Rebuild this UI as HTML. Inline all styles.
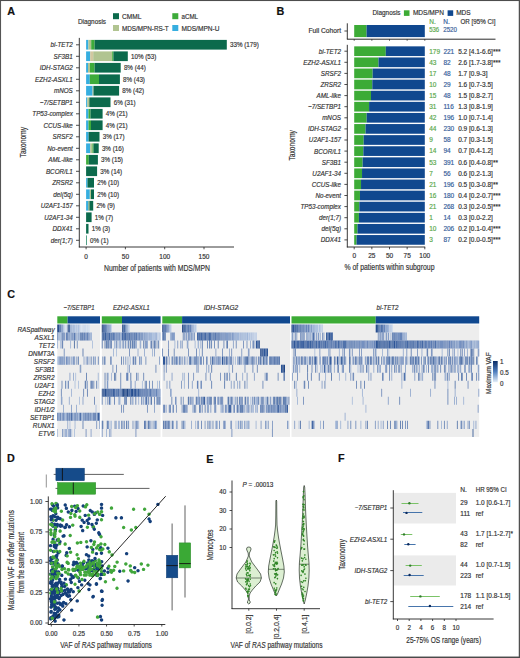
<!DOCTYPE html>
<html><head><meta charset="utf-8"><style>
html,body{margin:0;padding:0;background:#fff;}
svg{display:block;}
text{font-family:"Liberation Sans",sans-serif;font-size:6.5px;fill:#333;stroke:#333;stroke-width:.17px;}
</style></head><body>
<svg width="520" height="658" viewBox="0 0 520 658">
<rect x="0" y="0" width="520" height="658" fill="#fff"/>
<text x="7.2" y="14.8" style="font-size:10.8px;font-weight:bold;fill:#111;stroke:#111">A</text>
<text x="78" y="23.5" textLength="28" lengthAdjust="spacingAndGlyphs">Diagnosis</text>
<rect x="113" y="13.2" width="6" height="6" fill="#0b6a4c"/>
<rect x="113" y="25" width="6" height="6" fill="#b1c491"/>
<rect x="172.3" y="13.2" width="6" height="6" fill="#3dab3a"/>
<rect x="172.3" y="25" width="6" height="6" fill="#36aee0"/>
<text x="122" y="19.2" textLength="19.3" lengthAdjust="spacingAndGlyphs">CMML</text>
<text x="122" y="31" textLength="46.7" lengthAdjust="spacingAndGlyphs">MDS/MPN-RS-T</text>
<text x="181.5" y="19.2" textLength="16.5" lengthAdjust="spacingAndGlyphs">aCML</text>
<text x="181.5" y="31" textLength="38" lengthAdjust="spacingAndGlyphs">MDS/MPN-U</text>
<rect x="86.1" y="39.9" width="2.3" height="9.7" fill="#36aee0"/>
<rect x="88.4" y="39.9" width="2.8" height="9.7" fill="#b1c491"/>
<rect x="91.2" y="39.9" width="3.4" height="9.7" fill="#3dab3a"/>
<rect x="94.6" y="39.9" width="132.2" height="9.7" fill="#0b6a4c"/>
<text transform="translate(230 47.1) scale(0.92 1)" style="font-size:6.8px">33% (179)</text>
<text transform="translate(72.8 47.2) scale(0.9 1)" text-anchor="end" style="font-size:7px;font-style:italic">bi-TET2</text>
<line x1="76" y1="44.8" x2="79.3" y2="44.8" stroke="#222" stroke-width="0.8"/>
<rect x="86.1" y="51.4" width="4.1" height="9.7" fill="#36aee0"/>
<rect x="90.2" y="51.4" width="3" height="9.7" fill="#d2c8a0"/>
<rect x="93.2" y="51.4" width="19" height="9.7" fill="#b1c491"/>
<rect x="112.2" y="51.4" width="1.2" height="9.7" fill="#3dab3a"/>
<rect x="113.4" y="51.4" width="14.4" height="9.7" fill="#0b6a4c"/>
<text transform="translate(131 58.6) scale(0.92 1)" style="font-size:6.8px">10% (53)</text>
<text transform="translate(72.8 58.7) scale(0.9 1)" text-anchor="end" style="font-size:7px;font-style:italic">SF3B1</text>
<line x1="76" y1="56.3" x2="79.3" y2="56.3" stroke="#222" stroke-width="0.8"/>
<rect x="86.1" y="62.9" width="1.9" height="9.7" fill="#36aee0"/>
<rect x="88" y="62.9" width="2" height="9.7" fill="#b1c491"/>
<rect x="90" y="62.9" width="4.6" height="9.7" fill="#3dab3a"/>
<rect x="94.6" y="62.9" width="26.1" height="9.7" fill="#0b6a4c"/>
<text transform="translate(123.9 70.1) scale(0.92 1)" style="font-size:6.8px">8% (44)</text>
<text transform="translate(72.8 70.2) scale(0.9 1)" text-anchor="end" style="font-size:7px;font-style:italic">IDH-STAG2</text>
<line x1="76" y1="67.8" x2="79.3" y2="67.8" stroke="#222" stroke-width="0.8"/>
<rect x="86.1" y="74.4" width="3.7" height="9.7" fill="#36aee0"/>
<rect x="89.8" y="74.4" width="9.2" height="9.7" fill="#3dab3a"/>
<rect x="99" y="74.4" width="20.9" height="9.7" fill="#0b6a4c"/>
<text transform="translate(123.1 81.6) scale(0.92 1)" style="font-size:6.8px">8% (43)</text>
<text transform="translate(72.8 81.7) scale(0.9 1)" text-anchor="end" style="font-size:7px;font-style:italic">EZH2-ASXL1</text>
<line x1="76" y1="79.3" x2="79.3" y2="79.3" stroke="#222" stroke-width="0.8"/>
<rect x="86.1" y="85.9" width="6.5" height="9.7" fill="#36aee0"/>
<rect x="92.6" y="85.9" width="0.9" height="9.7" fill="#b1c491"/>
<rect x="93.5" y="85.9" width="25.6" height="9.7" fill="#0b6a4c"/>
<text transform="translate(122.3 93.1) scale(0.92 1)" style="font-size:6.8px">8% (42)</text>
<text transform="translate(72.8 93.2) scale(0.9 1)" text-anchor="end" style="font-size:7px;font-style:italic">mNOS</text>
<line x1="76" y1="90.8" x2="79.3" y2="90.8" stroke="#222" stroke-width="0.8"/>
<rect x="86.1" y="97.4" width="1.2" height="9.7" fill="#36aee0"/>
<rect x="87.3" y="97.4" width="2" height="9.7" fill="#b1c491"/>
<rect x="89.3" y="97.4" width="21.2" height="9.7" fill="#0b6a4c"/>
<text transform="translate(113.7 104.6) scale(0.92 1)" style="font-size:6.8px">6% (31)</text>
<text transform="translate(72.8 104.7) scale(0.9 1)" text-anchor="end" style="font-size:7px;font-style:italic">−7/SETBP1</text>
<line x1="76" y1="102.3" x2="79.3" y2="102.3" stroke="#222" stroke-width="0.8"/>
<rect x="86.1" y="108.9" width="2.4" height="9.7" fill="#36aee0"/>
<rect x="88.5" y="108.9" width="2" height="9.7" fill="#3dab3a"/>
<rect x="90.5" y="108.9" width="12.1" height="9.7" fill="#0b6a4c"/>
<text transform="translate(105.8 116.1) scale(0.92 1)" style="font-size:6.8px">4% (21)</text>
<text transform="translate(72.8 116.2) scale(0.9 1)" text-anchor="end" style="font-size:7px;font-style:italic">TP53-complex</text>
<line x1="76" y1="113.8" x2="79.3" y2="113.8" stroke="#222" stroke-width="0.8"/>
<rect x="86.1" y="120.4" width="2.4" height="9.7" fill="#36aee0"/>
<rect x="88.5" y="120.4" width="2.5" height="9.7" fill="#3dab3a"/>
<rect x="91" y="120.4" width="11.6" height="9.7" fill="#0b6a4c"/>
<text transform="translate(105.8 127.6) scale(0.92 1)" style="font-size:6.8px">4% (21)</text>
<text transform="translate(72.8 127.7) scale(0.9 1)" text-anchor="end" style="font-size:7px;font-style:italic">CCUS-like</text>
<line x1="76" y1="125.3" x2="79.3" y2="125.3" stroke="#222" stroke-width="0.8"/>
<rect x="86.1" y="131.9" width="2.5" height="9.7" fill="#36aee0"/>
<rect x="88.6" y="131.9" width="10.9" height="9.7" fill="#0b6a4c"/>
<text transform="translate(102.7 139.1) scale(0.92 1)" style="font-size:6.8px">3% (17)</text>
<text transform="translate(72.8 139.2) scale(0.9 1)" text-anchor="end" style="font-size:7px;font-style:italic">SRSF2</text>
<line x1="76" y1="136.8" x2="79.3" y2="136.8" stroke="#222" stroke-width="0.8"/>
<rect x="86.1" y="143.4" width="4.2" height="9.7" fill="#36aee0"/>
<rect x="90.3" y="143.4" width="2.1" height="9.7" fill="#b1c491"/>
<rect x="92.4" y="143.4" width="1.1" height="9.7" fill="#3dab3a"/>
<rect x="93.5" y="143.4" width="5.2" height="9.7" fill="#0b6a4c"/>
<text transform="translate(101.9 150.6) scale(0.92 1)" style="font-size:6.8px">3% (16)</text>
<text transform="translate(72.8 150.7) scale(0.9 1)" text-anchor="end" style="font-size:7px;font-style:italic">No-event</text>
<line x1="76" y1="148.3" x2="79.3" y2="148.3" stroke="#222" stroke-width="0.8"/>
<rect x="86.1" y="154.9" width="2.7" height="9.7" fill="#3dab3a"/>
<rect x="88.8" y="154.9" width="9.1" height="9.7" fill="#0b6a4c"/>
<text transform="translate(101.1 162.1) scale(0.92 1)" style="font-size:6.8px">3% (15)</text>
<text transform="translate(72.8 162.2) scale(0.9 1)" text-anchor="end" style="font-size:7px;font-style:italic">AML-like</text>
<line x1="76" y1="159.8" x2="79.3" y2="159.8" stroke="#222" stroke-width="0.8"/>
<rect x="86.1" y="166.4" width="11" height="9.7" fill="#0b6a4c"/>
<text transform="translate(100.3 173.6) scale(0.92 1)" style="font-size:6.8px">3% (14)</text>
<text transform="translate(72.8 173.7) scale(0.9 1)" text-anchor="end" style="font-size:7px;font-style:italic">BCOR/L1</text>
<line x1="76" y1="171.3" x2="79.3" y2="171.3" stroke="#222" stroke-width="0.8"/>
<rect x="86.1" y="177.9" width="1.4" height="9.7" fill="#36aee0"/>
<rect x="87.5" y="177.9" width="6.5" height="9.7" fill="#0b6a4c"/>
<text transform="translate(97.2 185.1) scale(0.92 1)" style="font-size:6.8px">2% (10)</text>
<text transform="translate(72.8 185.2) scale(0.9 1)" text-anchor="end" style="font-size:7px;font-style:italic">ZRSR2</text>
<line x1="76" y1="182.8" x2="79.3" y2="182.8" stroke="#222" stroke-width="0.8"/>
<rect x="86.1" y="189.4" width="3.7" height="9.7" fill="#36aee0"/>
<rect x="89.8" y="189.4" width="1.2" height="9.7" fill="#b1c491"/>
<rect x="91" y="189.4" width="3" height="9.7" fill="#0b6a4c"/>
<text transform="translate(97.2 196.6) scale(0.92 1)" style="font-size:6.8px">2% (10)</text>
<text transform="translate(72.8 196.7) scale(0.9 1)" text-anchor="end" style="font-size:7px;font-style:italic">del(5q)</text>
<line x1="76" y1="194.3" x2="79.3" y2="194.3" stroke="#222" stroke-width="0.8"/>
<rect x="86.1" y="200.9" width="2.4" height="9.7" fill="#36aee0"/>
<rect x="88.5" y="200.9" width="1" height="9.7" fill="#7a9a50"/>
<rect x="89.5" y="200.9" width="3.7" height="9.7" fill="#0b6a4c"/>
<text transform="translate(96.4 208.1) scale(0.92 1)" style="font-size:6.8px">2% (9)</text>
<text transform="translate(72.8 208.2) scale(0.9 1)" text-anchor="end" style="font-size:7px;font-style:italic">U2AF1-157</text>
<line x1="76" y1="205.8" x2="79.3" y2="205.8" stroke="#222" stroke-width="0.8"/>
<rect x="86.1" y="212.4" width="5.5" height="9.7" fill="#0b6a4c"/>
<text transform="translate(94.8 219.6) scale(0.92 1)" style="font-size:6.8px">1% (7)</text>
<text transform="translate(72.8 219.7) scale(0.9 1)" text-anchor="end" style="font-size:7px;font-style:italic">U2AF1-34</text>
<line x1="76" y1="217.3" x2="79.3" y2="217.3" stroke="#222" stroke-width="0.8"/>
<rect x="86.1" y="223.9" width="2.4" height="9.7" fill="#0b6a4c"/>
<text transform="translate(91.7 231.1) scale(0.92 1)" style="font-size:6.8px">1% (3)</text>
<text transform="translate(72.8 231.2) scale(0.9 1)" text-anchor="end" style="font-size:7px;font-style:italic">DDX41</text>
<line x1="76" y1="228.8" x2="79.3" y2="228.8" stroke="#222" stroke-width="0.8"/>
<rect x="86.1" y="235.4" width="0.8" height="9.7" fill="#2a8a6a"/>
<text transform="translate(90.1 242.6) scale(0.92 1)" style="font-size:6.8px">0% (1)</text>
<text transform="translate(72.8 242.7) scale(0.9 1)" text-anchor="end" style="font-size:7px;font-style:italic">der(1;7)</text>
<line x1="76" y1="240.3" x2="79.3" y2="240.3" stroke="#222" stroke-width="0.8"/>
<line x1="79.3" y1="37.9" x2="79.3" y2="247.4" stroke="#222" stroke-width="0.9"/>
<line x1="78.9" y1="247" x2="234" y2="247" stroke="#222" stroke-width="0.9"/>
<line x1="86.1" y1="247" x2="86.1" y2="249.3" stroke="#222" stroke-width="0.8"/>
<text x="86.1" y="258.5" text-anchor="middle">0</text>
<line x1="125.4" y1="247" x2="125.4" y2="249.3" stroke="#222" stroke-width="0.8"/>
<text x="125.4" y="258.5" text-anchor="middle">50</text>
<line x1="164.7" y1="247" x2="164.7" y2="249.3" stroke="#222" stroke-width="0.8"/>
<text x="164.7" y="258.5" text-anchor="middle">100</text>
<line x1="204" y1="247" x2="204" y2="249.3" stroke="#222" stroke-width="0.8"/>
<text x="204" y="258.5" text-anchor="middle">150</text>
<text x="104" y="271" style="font-size:8.2px" textLength="106" lengthAdjust="spacingAndGlyphs">Number of patients with MDS/MPN</text>
<text transform="translate(26.3 142.2) rotate(-90)" text-anchor="middle" style="font-size:8.3px" textLength="30.5" lengthAdjust="spacingAndGlyphs">Taxonomy</text>
<text x="276.5" y="15" style="font-size:10.8px;font-weight:bold;fill:#111;stroke:#111">B</text>
<text x="372.5" y="15.2" textLength="28" lengthAdjust="spacingAndGlyphs">Diagnosis</text>
<rect x="403.9" y="10.3" width="5.6" height="5.6" fill="#3cab36"/>
<text x="412.9" y="15.2" textLength="31" lengthAdjust="spacingAndGlyphs">MDS/MPN</text>
<rect x="447.6" y="10.3" width="5.6" height="5.6" fill="#10488f"/>
<text x="456.2" y="15.2" textLength="14.5" lengthAdjust="spacingAndGlyphs">MDS</text>
<text x="429.2" y="24.2" style="fill:#5aa84a;stroke:#5aa84a">N.</text>
<text x="443.2" y="24.2" style="fill:#36609a;stroke:#36609a">N.</text>
<text x="460.4" y="23.6" textLength="35" lengthAdjust="spacingAndGlyphs">OR [95% CI]</text>
<text x="429.2" y="32" style="fill:#5aa84a;stroke:#5aa84a" textLength="10" lengthAdjust="spacingAndGlyphs">536</text>
<text x="443.2" y="32" style="fill:#36609a;stroke:#36609a" textLength="13.8" lengthAdjust="spacingAndGlyphs">2520</text>
<line x1="347.3" y1="23.3" x2="347.3" y2="39.2" stroke="#222" stroke-width="0.9"/>
<line x1="344.4" y1="31" x2="347.3" y2="31" stroke="#222" stroke-width="0.8"/>
<text x="341" y="33.3" text-anchor="end" textLength="32.5" lengthAdjust="spacingAndGlyphs">Full Cohort</text>
<rect x="354.2" y="25" width="12.38" height="12.1" fill="#3cab36"/>
<rect x="366.58" y="25" width="58.22" height="12.1" fill="#10488f"/>
<line x1="346.9" y1="39.2" x2="495.5" y2="39.2" stroke="#111" stroke-width="0.9"/>
<line x1="354.2" y1="39.2" x2="354.2" y2="40.8" stroke="#222" stroke-width="0.7"/>
<line x1="371.85" y1="39.2" x2="371.85" y2="40.8" stroke="#222" stroke-width="0.7"/>
<line x1="389.5" y1="39.2" x2="389.5" y2="40.8" stroke="#222" stroke-width="0.7"/>
<line x1="407.15" y1="39.2" x2="407.15" y2="40.8" stroke="#222" stroke-width="0.7"/>
<line x1="424.8" y1="39.2" x2="424.8" y2="40.8" stroke="#222" stroke-width="0.7"/>
<rect x="354.2" y="46.35" width="31.59" height="9.7" fill="#3cab36"/>
<rect x="385.79" y="46.35" width="39.01" height="9.7" fill="#10488f"/>
<line x1="344.4" y1="51.2" x2="347.3" y2="51.2" stroke="#222" stroke-width="0.8"/>
<text transform="translate(341 53.6) scale(0.9 1)" text-anchor="end" style="font-size:7px;font-style:italic">bi-TET2</text>
<text x="429.2" y="53.5" style="fill:#5aa84a;stroke:#5aa84a">179</text>
<text x="443.4" y="53.5" style="fill:#36609a;stroke:#36609a">221</text>
<text x="458.2" y="53.5">5.2 [4.1-6.6]***</text>
<rect x="354.2" y="57.45" width="24.29" height="9.7" fill="#3cab36"/>
<rect x="378.49" y="57.45" width="46.31" height="9.7" fill="#10488f"/>
<line x1="344.4" y1="62.3" x2="347.3" y2="62.3" stroke="#222" stroke-width="0.8"/>
<text transform="translate(341 64.7) scale(0.9 1)" text-anchor="end" style="font-size:7px;font-style:italic">EZH2-ASXL1</text>
<text x="429.2" y="64.6" style="fill:#5aa84a;stroke:#5aa84a">43</text>
<text x="443.4" y="64.6" style="fill:#36609a;stroke:#36609a">82</text>
<text x="458.2" y="64.6">2.6 [1.7-3.8]***</text>
<rect x="354.2" y="68.55" width="18.46" height="9.7" fill="#3cab36"/>
<rect x="372.66" y="68.55" width="52.14" height="9.7" fill="#10488f"/>
<line x1="344.4" y1="73.4" x2="347.3" y2="73.4" stroke="#222" stroke-width="0.8"/>
<text transform="translate(341 75.8) scale(0.9 1)" text-anchor="end" style="font-size:7px;font-style:italic">SRSF2</text>
<text x="429.2" y="75.7" style="fill:#5aa84a;stroke:#5aa84a">17</text>
<text x="443.4" y="75.7" style="fill:#36609a;stroke:#36609a">48</text>
<text x="458.2" y="75.7">1.7 [0.9-3]</text>
<rect x="354.2" y="79.65" width="18.1" height="9.7" fill="#3cab36"/>
<rect x="372.3" y="79.65" width="52.5" height="9.7" fill="#10488f"/>
<line x1="344.4" y1="84.5" x2="347.3" y2="84.5" stroke="#222" stroke-width="0.8"/>
<text transform="translate(341 86.9) scale(0.9 1)" text-anchor="end" style="font-size:7px;font-style:italic">ZRSR2</text>
<text x="429.2" y="86.8" style="fill:#5aa84a;stroke:#5aa84a">10</text>
<text x="443.4" y="86.8" style="fill:#36609a;stroke:#36609a">29</text>
<text x="458.2" y="86.8">1.6 [0.7-3.5]</text>
<rect x="354.2" y="90.75" width="16.81" height="9.7" fill="#3cab36"/>
<rect x="371.01" y="90.75" width="53.79" height="9.7" fill="#10488f"/>
<line x1="344.4" y1="95.6" x2="347.3" y2="95.6" stroke="#222" stroke-width="0.8"/>
<text transform="translate(341 98) scale(0.9 1)" text-anchor="end" style="font-size:7px;font-style:italic">AML-like</text>
<text x="429.2" y="97.9" style="fill:#5aa84a;stroke:#5aa84a">15</text>
<text x="443.4" y="97.9" style="fill:#36609a;stroke:#36609a">48</text>
<text x="458.2" y="97.9">1.5 [0.8-2.7]</text>
<rect x="354.2" y="101.85" width="14.89" height="9.7" fill="#3cab36"/>
<rect x="369.09" y="101.85" width="55.71" height="9.7" fill="#10488f"/>
<line x1="344.4" y1="106.7" x2="347.3" y2="106.7" stroke="#222" stroke-width="0.8"/>
<text transform="translate(341 109.1) scale(0.9 1)" text-anchor="end" style="font-size:7px;font-style:italic">−7/SETBP1</text>
<text x="429.2" y="109" style="fill:#5aa84a;stroke:#5aa84a">31</text>
<text x="443.4" y="109" style="fill:#36609a;stroke:#36609a">116</text>
<text x="458.2" y="109">1.3 [0.8-1.9]</text>
<rect x="354.2" y="112.95" width="12.46" height="9.7" fill="#3cab36"/>
<rect x="366.66" y="112.95" width="58.14" height="9.7" fill="#10488f"/>
<line x1="344.4" y1="117.8" x2="347.3" y2="117.8" stroke="#222" stroke-width="0.8"/>
<text transform="translate(341 120.2) scale(0.9 1)" text-anchor="end" style="font-size:7px;font-style:italic">mNOS</text>
<text x="429.2" y="120.1" style="fill:#5aa84a;stroke:#5aa84a">42</text>
<text x="443.4" y="120.1" style="fill:#36609a;stroke:#36609a">196</text>
<text x="458.2" y="120.1">1.0 [0.7-1.4]</text>
<rect x="354.2" y="124.05" width="11.34" height="9.7" fill="#3cab36"/>
<rect x="365.54" y="124.05" width="59.26" height="9.7" fill="#10488f"/>
<line x1="344.4" y1="128.9" x2="347.3" y2="128.9" stroke="#222" stroke-width="0.8"/>
<text transform="translate(341 131.3) scale(0.9 1)" text-anchor="end" style="font-size:7px;font-style:italic">IDH-STAG2</text>
<text x="429.2" y="131.2" style="fill:#5aa84a;stroke:#5aa84a">44</text>
<text x="443.4" y="131.2" style="fill:#36609a;stroke:#36609a">230</text>
<text x="458.2" y="131.2">0.9 [0.6-1.3]</text>
<rect x="354.2" y="135.15" width="9.48" height="9.7" fill="#3cab36"/>
<rect x="363.68" y="135.15" width="61.12" height="9.7" fill="#10488f"/>
<line x1="344.4" y1="140" x2="347.3" y2="140" stroke="#222" stroke-width="0.8"/>
<text transform="translate(341 142.4) scale(0.9 1)" text-anchor="end" style="font-size:7px;font-style:italic">U2AF1-157</text>
<text x="429.2" y="142.3" style="fill:#5aa84a;stroke:#5aa84a">9</text>
<text x="443.4" y="142.3" style="fill:#36609a;stroke:#36609a">58</text>
<text x="458.2" y="142.3">0.7 [0.3-1.5]</text>
<rect x="354.2" y="146.25" width="9.15" height="9.7" fill="#3cab36"/>
<rect x="363.35" y="146.25" width="61.45" height="9.7" fill="#10488f"/>
<line x1="344.4" y1="151.1" x2="347.3" y2="151.1" stroke="#222" stroke-width="0.8"/>
<text transform="translate(341 153.5) scale(0.9 1)" text-anchor="end" style="font-size:7px;font-style:italic">BCOR/L1</text>
<text x="429.2" y="153.4" style="fill:#5aa84a;stroke:#5aa84a">14</text>
<text x="443.4" y="153.4" style="fill:#36609a;stroke:#36609a">94</text>
<text x="458.2" y="153.4">0.7 [0.4-1.2]</text>
<rect x="354.2" y="157.35" width="8.43" height="9.7" fill="#3cab36"/>
<rect x="362.63" y="157.35" width="62.17" height="9.7" fill="#10488f"/>
<line x1="344.4" y1="162.2" x2="347.3" y2="162.2" stroke="#222" stroke-width="0.8"/>
<text transform="translate(341 164.6) scale(0.9 1)" text-anchor="end" style="font-size:7px;font-style:italic">SF3B1</text>
<text x="429.2" y="164.5" style="fill:#5aa84a;stroke:#5aa84a">53</text>
<text x="443.4" y="164.5" style="fill:#36609a;stroke:#36609a">391</text>
<text x="458.2" y="164.5">0.6 [0.4-0.8]**</text>
<rect x="354.2" y="168.45" width="7.84" height="9.7" fill="#3cab36"/>
<rect x="362.04" y="168.45" width="62.76" height="9.7" fill="#10488f"/>
<line x1="344.4" y1="173.3" x2="347.3" y2="173.3" stroke="#222" stroke-width="0.8"/>
<text transform="translate(341 175.7) scale(0.9 1)" text-anchor="end" style="font-size:7px;font-style:italic">U2AF1-34</text>
<text x="429.2" y="175.6" style="fill:#5aa84a;stroke:#5aa84a">7</text>
<text x="443.4" y="175.6" style="fill:#36609a;stroke:#36609a">56</text>
<text x="458.2" y="175.6">0.6 [0.2-1.3]</text>
<rect x="354.2" y="179.55" width="6.83" height="9.7" fill="#3cab36"/>
<rect x="361.03" y="179.55" width="63.77" height="9.7" fill="#10488f"/>
<line x1="344.4" y1="184.4" x2="347.3" y2="184.4" stroke="#222" stroke-width="0.8"/>
<text transform="translate(341 186.8) scale(0.9 1)" text-anchor="end" style="font-size:7px;font-style:italic">CCUS-like</text>
<text x="429.2" y="186.7" style="fill:#5aa84a;stroke:#5aa84a">21</text>
<text x="443.4" y="186.7" style="fill:#36609a;stroke:#36609a">196</text>
<text x="458.2" y="186.7">0.5 [0.3-0.8]**</text>
<rect x="354.2" y="190.65" width="5.76" height="9.7" fill="#3cab36"/>
<rect x="359.96" y="190.65" width="64.84" height="9.7" fill="#10488f"/>
<line x1="344.4" y1="195.5" x2="347.3" y2="195.5" stroke="#222" stroke-width="0.8"/>
<text transform="translate(341 197.9) scale(0.9 1)" text-anchor="end" style="font-size:7px;font-style:italic">No-event</text>
<text x="429.2" y="197.8" style="fill:#5aa84a;stroke:#5aa84a">16</text>
<text x="443.4" y="197.8" style="fill:#36609a;stroke:#36609a">180</text>
<text x="458.2" y="197.8">0.4 [0.2-0.7]***</text>
<rect x="354.2" y="201.75" width="5.13" height="9.7" fill="#3cab36"/>
<rect x="359.33" y="201.75" width="65.47" height="9.7" fill="#10488f"/>
<line x1="344.4" y1="206.6" x2="347.3" y2="206.6" stroke="#222" stroke-width="0.8"/>
<text transform="translate(341 209) scale(0.9 1)" text-anchor="end" style="font-size:7px;font-style:italic">TP53-complex</text>
<text x="429.2" y="208.9" style="fill:#5aa84a;stroke:#5aa84a">21</text>
<text x="443.4" y="208.9" style="fill:#36609a;stroke:#36609a">268</text>
<text x="458.2" y="208.9">0.3 [0.2-0.5]***</text>
<rect x="354.2" y="212.85" width="4.71" height="9.7" fill="#3cab36"/>
<rect x="358.91" y="212.85" width="65.89" height="9.7" fill="#10488f"/>
<line x1="344.4" y1="217.7" x2="347.3" y2="217.7" stroke="#222" stroke-width="0.8"/>
<text transform="translate(341 220.1) scale(0.9 1)" text-anchor="end" style="font-size:7px;font-style:italic">der(1;7)</text>
<text x="429.2" y="220" style="fill:#5aa84a;stroke:#5aa84a">1</text>
<text x="443.4" y="220" style="fill:#36609a;stroke:#36609a">14</text>
<text x="458.2" y="220">0.3 [0.0-2.2]</text>
<rect x="354.2" y="223.95" width="3.27" height="9.7" fill="#3cab36"/>
<rect x="357.47" y="223.95" width="67.33" height="9.7" fill="#10488f"/>
<line x1="344.4" y1="228.8" x2="347.3" y2="228.8" stroke="#222" stroke-width="0.8"/>
<text transform="translate(341 231.2) scale(0.9 1)" text-anchor="end" style="font-size:7px;font-style:italic">del(5q)</text>
<text x="429.2" y="231.1" style="fill:#5aa84a;stroke:#5aa84a">10</text>
<text x="443.4" y="231.1" style="fill:#36609a;stroke:#36609a">206</text>
<text x="458.2" y="231.1">0.2 [0.1-0.4]***</text>
<rect x="354.2" y="235.05" width="2.35" height="9.7" fill="#3cab36"/>
<rect x="356.55" y="235.05" width="68.25" height="9.7" fill="#10488f"/>
<line x1="344.4" y1="239.9" x2="347.3" y2="239.9" stroke="#222" stroke-width="0.8"/>
<text transform="translate(341 242.3) scale(0.9 1)" text-anchor="end" style="font-size:7px;font-style:italic">DDX41</text>
<text x="429.2" y="242.2" style="fill:#5aa84a;stroke:#5aa84a">3</text>
<text x="443.4" y="242.2" style="fill:#36609a;stroke:#36609a">87</text>
<text x="458.2" y="242.2">0.2 [0.0-0.5]***</text>
<line x1="347.3" y1="44.8" x2="347.3" y2="247.4" stroke="#222" stroke-width="0.9"/>
<line x1="346.9" y1="247" x2="425.2" y2="247" stroke="#222" stroke-width="0.9"/>
<line x1="354.2" y1="247" x2="354.2" y2="249.3" stroke="#222" stroke-width="0.8"/>
<text x="354.2" y="258.3" text-anchor="middle">0</text>
<line x1="371.85" y1="247" x2="371.85" y2="249.3" stroke="#222" stroke-width="0.8"/>
<text x="371.85" y="258.3" text-anchor="middle">25</text>
<line x1="389.5" y1="247" x2="389.5" y2="249.3" stroke="#222" stroke-width="0.8"/>
<text x="389.5" y="258.3" text-anchor="middle">50</text>
<line x1="407.15" y1="247" x2="407.15" y2="249.3" stroke="#222" stroke-width="0.8"/>
<text x="407.15" y="258.3" text-anchor="middle">75</text>
<line x1="424.8" y1="247" x2="424.8" y2="249.3" stroke="#222" stroke-width="0.8"/>
<text x="424.8" y="258.3" text-anchor="middle">100</text>
<text x="344.5" y="269.5" style="font-size:8.2px" textLength="90" lengthAdjust="spacingAndGlyphs">% of patients within subgroup</text>
<text transform="translate(294.6 145.3) rotate(-90)" text-anchor="middle" style="font-size:8.3px" textLength="30.5" lengthAdjust="spacingAndGlyphs">Taxonomy</text>
<text x="7.3" y="297.9" style="font-size:10.8px;font-weight:bold;fill:#111;stroke:#111">C</text>
<text x="63.5" y="309.9" style="font-size:7px;font-style:italic" textLength="31" lengthAdjust="spacingAndGlyphs">−7/SETBP1</text>
<text x="113" y="309.9" style="font-size:7px;font-style:italic" textLength="36.7" lengthAdjust="spacingAndGlyphs">EZH2-ASXL1</text>
<text x="203.7" y="309.9" style="font-size:7px;font-style:italic" textLength="34.5" lengthAdjust="spacingAndGlyphs">IDH-STAG2</text>
<text x="376.5" y="309.9" style="font-size:7px;font-style:italic" textLength="22" lengthAdjust="spacingAndGlyphs">bi-TET2</text>
<rect x="57.3" y="316.3" width="10.3" height="7.2" fill="#3cab36"/>
<rect x="67.6" y="316.3" width="32.4" height="7.2" fill="#10488f"/>
<rect x="57.3" y="324.5" width="42.7" height="112.42" fill="#ededed"/>
<rect x="101.8" y="316.3" width="20.2" height="7.2" fill="#3cab36"/>
<rect x="122" y="316.3" width="38.6" height="7.2" fill="#10488f"/>
<rect x="101.8" y="324.5" width="58.8" height="112.42" fill="#ededed"/>
<rect x="162.3" y="316.3" width="19.8" height="7.2" fill="#3cab36"/>
<rect x="182.1" y="316.3" width="107.9" height="7.2" fill="#10488f"/>
<rect x="162.3" y="324.5" width="127.7" height="112.42" fill="#ededed"/>
<rect x="291.5" y="316.3" width="84.2" height="7.2" fill="#3cab36"/>
<rect x="375.7" y="316.3" width="103.5" height="7.2" fill="#10488f"/>
<rect x="291.5" y="324.5" width="187.7" height="112.42" fill="#ededed"/>
<text transform="translate(54.6 331.63) scale(0.92 1)" text-anchor="end" style="font-size:7px;font-style:italic">RASpathway</text>
<text transform="translate(54.6 339.66) scale(0.92 1)" text-anchor="end" style="font-size:7px;font-style:italic">ASXL1</text>
<text transform="translate(54.6 347.69) scale(0.92 1)" text-anchor="end" style="font-size:7px;font-style:italic">TET2</text>
<text transform="translate(54.6 355.72) scale(0.92 1)" text-anchor="end" style="font-size:7px;font-style:italic">DNMT3A</text>
<text transform="translate(54.6 363.75) scale(0.92 1)" text-anchor="end" style="font-size:7px;font-style:italic">SRSF2</text>
<text transform="translate(54.6 371.78) scale(0.92 1)" text-anchor="end" style="font-size:7px;font-style:italic">SF3B1</text>
<text transform="translate(54.6 379.81) scale(0.92 1)" text-anchor="end" style="font-size:7px;font-style:italic">ZRSR2</text>
<text transform="translate(54.6 387.84) scale(0.92 1)" text-anchor="end" style="font-size:7px;font-style:italic">U2AF1</text>
<text transform="translate(54.6 395.87) scale(0.92 1)" text-anchor="end" style="font-size:7px;font-style:italic">EZH2</text>
<text transform="translate(54.6 403.9) scale(0.92 1)" text-anchor="end" style="font-size:7px;font-style:italic">STAG2</text>
<text transform="translate(54.6 411.93) scale(0.92 1)" text-anchor="end" style="font-size:7px;font-style:italic">IDH1/2</text>
<text transform="translate(54.6 419.96) scale(0.92 1)" text-anchor="end" style="font-size:7px;font-style:italic">SETBP1</text>
<text transform="translate(54.6 427.99) scale(0.92 1)" text-anchor="end" style="font-size:7px;font-style:italic">RUNX1</text>
<text transform="translate(54.6 436.02) scale(0.92 1)" text-anchor="end" style="font-size:7px;font-style:italic">ETV6</text>
<path fill="#1a3d7a" d="M57.3 324.5h0.7v8.03h-0.7zM102.53 324.5h0.73v8.03h-0.73zM122 324.5h0.73v8.03h-0.73zM102.52 388.74h0.72v8.03h-0.72zM124.14 388.74h0.71v8.03h-0.71zM162.3 324.5h0.71v8.03h-0.71z"/>
<path fill="#274e8e" d="M58 324.5h1.4v8.03h-1.4zM68.4 324.5h0.8v8.03h-0.8zM73.95 340.56h0.72v8.03h-0.72zM103.24 332.53h0.72v8.03h-0.72zM101.8 388.74h0.72v8.03h-0.72zM103.24 388.74h0.72v8.03h-0.72zM104.69 388.74h1.44v8.03h-1.44zM106.85 388.74h0.72v8.03h-0.72zM122.71 388.74h1.43v8.03h-1.43zM124.86 388.74h0.71v8.03h-0.71zM126.29 388.74h0.71v8.03h-0.71zM132.01 388.74h1.43v8.03h-1.43zM184.23 324.5h0.71v8.03h-0.71zM259.33 340.56h0.67v8.03h-0.67zM260 348.59h0.73v8.03h-0.73zM265.82 348.59h0.73v8.03h-0.73zM197.53 356.62h0.72v8.03h-0.72zM247.15 356.62h0.72v8.03h-0.72zM262.97 356.62h0.72v8.03h-0.72zM283 364.65h0.67v8.03h-0.67zM213.77 396.77h0.72v8.03h-0.72zM231.03 396.77h0.72v8.03h-0.72zM236.78 396.77h0.72v8.03h-0.72zM266.99 396.77h0.72v8.03h-0.72zM277.77 396.77h0.72v8.03h-0.72zM292.22 324.5h0.72v8.03h-0.72zM295.08 324.5h0.72v8.03h-0.72zM375.7 324.5h2.16v8.03h-2.16zM330.2 332.53h0.7v8.03h-0.7zM377.14 340.56h1.44v8.03h-1.44zM379.29 340.56h0.72v8.03h-0.72zM380.73 340.56h0.72v8.03h-0.72zM385.76 340.56h0.72v8.03h-0.72zM295.81 356.62h0.72v8.03h-0.72zM300.85 356.62h0.72v8.03h-0.72zM360.54 356.62h0.72v8.03h-0.72zM438.93 356.62h0.72v8.03h-0.72zM473.45 356.62h0.72v8.03h-0.72zM472.6 428.89h0.8v8.03h-0.8z"/>
<path fill="#4468a5" d="M59.4 324.5h1.4v8.03h-1.4zM77.97 356.62h0.71v8.03h-0.71zM97.87 356.62h0.71v8.03h-0.71zM86.25 372.68h0.72v8.03h-0.72zM84.8 380.71h0.72v8.03h-0.72zM96.38 380.71h0.72v8.03h-0.72zM86.97 388.74h0.72v8.03h-0.72zM57.3 412.83h0.72v8.03h-0.72zM59.47 412.83h0.72v8.03h-0.72zM71.05 412.83h1.45v8.03h-1.45zM75.39 412.83h0.72v8.03h-0.72zM77.56 412.83h0.72v8.03h-0.72zM83.35 412.83h0.72v8.03h-0.72zM85.53 412.83h0.72v8.03h-0.72zM93.49 412.83h0.72v8.03h-0.72zM82.63 420.86h0.72v8.03h-0.72zM103.96 332.53h0.72v8.03h-0.72zM108.29 332.53h2.16v8.03h-2.16zM122 332.53h1.43v8.03h-1.43zM124.14 332.53h2.14v8.03h-2.14zM127 332.53h0.71v8.03h-0.71zM128.43 332.53h1.43v8.03h-1.43zM132.72 332.53h0.71v8.03h-0.71zM106.1 340.56h0.72v8.03h-0.72zM108.25 340.56h0.72v8.03h-0.72zM110.4 340.56h0.72v8.03h-0.72zM134.07 340.56h0.72v8.03h-0.72zM144.82 340.56h0.72v8.03h-0.72zM151.28 340.56h0.72v8.03h-0.72zM155.58 340.56h0.72v8.03h-0.72zM110.4 356.62h0.72v8.03h-0.72zM121.16 356.62h0.72v8.03h-0.72zM104.67 372.68h0.72v8.03h-0.72zM106.82 372.68h0.72v8.03h-0.72zM144.82 380.71h0.72v8.03h-0.72zM111.18 388.74h1.44v8.03h-1.44zM114.06 388.74h1.44v8.03h-1.44zM116.95 388.74h0.72v8.03h-0.72zM133.44 388.74h0.71v8.03h-0.71zM137.01 388.74h0.71v8.03h-0.71zM139.16 388.74h0.71v8.03h-0.71zM142.73 388.74h0.71v8.03h-0.71zM144.87 388.74h0.71v8.03h-0.71zM113.99 396.77h0.72v8.03h-0.72zM135.5 396.77h0.72v8.03h-0.72zM154.15 396.77h0.72v8.03h-0.72zM101.8 420.86h0.72v8.03h-0.72zM122.6 420.86h0.72v8.03h-0.72zM163.72 324.5h0.71v8.03h-0.71zM185.65 324.5h0.71v8.03h-0.71zM163.78 332.53h0.74v8.03h-0.74zM182.81 332.53h0.71v8.03h-0.71zM190.61 332.53h0.71v8.03h-0.71zM197 332.53h1.45v8.03h-1.45zM200.61 332.53h2.17v8.03h-2.17zM204.23 332.53h2.17v8.03h-2.17zM208.57 332.53h1.45v8.03h-1.45zM212.9 332.53h0.72v8.03h-0.72zM201.94 340.56h0.72v8.03h-0.72zM206.99 340.56h0.72v8.03h-0.72zM209.15 340.56h0.72v8.03h-0.72zM168.06 348.59h0.72v8.03h-0.72zM201.88 348.59h0.72v8.03h-0.72zM165.9 356.62h0.72v8.03h-0.72zM179.56 356.62h0.72v8.03h-0.72zM181.71 356.62h0.72v8.03h-0.72zM229.89 356.62h0.72v8.03h-0.72zM255.78 356.62h0.72v8.03h-0.72zM261.53 356.62h0.72v8.03h-0.72zM269.73 356.62h0.73v8.03h-0.73zM272.67 356.62h0.73v8.03h-0.73zM275.6 356.62h0.73v8.03h-0.73zM277.07 356.62h0.73v8.03h-0.73zM197.68 364.65h0.72v8.03h-0.72zM224.35 372.68h0.72v8.03h-0.72zM266.19 372.68h0.72v8.03h-0.72zM284.23 372.68h0.72v8.03h-0.72zM211.36 380.71h0.72v8.03h-0.72zM171.52 396.77h0.71v8.03h-0.71zM180.74 396.77h0.71v8.03h-0.71zM188.6 396.77h0.72v8.03h-0.72zM195.79 396.77h0.72v8.03h-0.72zM208.73 396.77h0.72v8.03h-0.72zM220.96 396.77h0.72v8.03h-0.72zM222.4 396.77h0.72v8.03h-0.72zM244.69 396.77h0.72v8.03h-0.72zM261.95 396.77h0.72v8.03h-0.72zM269.86 396.77h0.72v8.03h-0.72zM274.18 396.77h0.72v8.03h-0.72zM183.17 404.8h0.72v8.03h-0.72zM193.96 404.8h0.72v8.03h-0.72zM199 404.8h0.72v8.03h-0.72zM204.75 404.8h0.72v8.03h-0.72zM207.63 404.8h0.72v8.03h-0.72zM228.5 404.8h2.88v8.03h-2.88zM233.54 404.8h0.72v8.03h-0.72zM240.01 404.8h0.72v8.03h-0.72zM262.87 404.8h0.72v8.03h-0.72zM266.46 404.8h0.72v8.03h-0.72zM267.9 404.8h0.72v8.03h-0.72zM277.95 404.8h1.44v8.03h-1.44zM280.1 404.8h0.72v8.03h-0.72zM163.02 420.86h0.72v8.03h-0.72zM168.05 420.86h0.72v8.03h-0.72zM183.15 420.86h0.72v8.03h-0.72zM296.51 324.5h0.72v8.03h-0.72zM298.66 324.5h0.72v8.03h-0.72zM300.09 324.5h0.72v8.03h-0.72zM327.4 332.53h0.7v8.03h-0.7zM330.9 332.53h1.4v8.03h-1.4zM392.71 332.53h0.71v8.03h-0.71zM292.94 340.56h0.72v8.03h-0.72zM296.54 340.56h2.88v8.03h-2.88zM300.86 340.56h2.16v8.03h-2.16zM305.17 340.56h0.72v8.03h-0.72zM306.61 340.56h2.88v8.03h-2.88zM313.81 340.56h0.72v8.03h-0.72zM315.97 340.56h1.44v8.03h-1.44zM318.13 340.56h2.16v8.03h-2.16zM321.73 340.56h0.72v8.03h-0.72zM324.6 340.56h1.44v8.03h-1.44zM328.92 340.56h0.72v8.03h-0.72zM330.36 340.56h1.44v8.03h-1.44zM333.24 340.56h0.72v8.03h-0.72zM337.56 340.56h2.16v8.03h-2.16zM382.17 340.56h0.72v8.03h-0.72zM383.61 340.56h0.72v8.03h-0.72zM385.04 340.56h0.72v8.03h-0.72zM387.92 340.56h0.72v8.03h-0.72zM390.07 340.56h0.72v8.03h-0.72zM392.95 340.56h0.72v8.03h-0.72zM395.82 340.56h1.44v8.03h-1.44zM398.7 340.56h0.72v8.03h-0.72zM403.73 340.56h0.72v8.03h-0.72zM406.61 340.56h1.44v8.03h-1.44zM410.2 340.56h1.44v8.03h-1.44zM412.36 340.56h0.72v8.03h-0.72zM414.51 340.56h0.72v8.03h-0.72zM416.67 340.56h1.44v8.03h-1.44zM421.7 340.56h1.44v8.03h-1.44zM293.66 348.59h0.72v8.03h-0.72zM348.98 348.59h0.72v8.03h-0.72zM410.8 348.59h0.72v8.03h-0.72zM448.96 348.59h0.72v8.03h-0.72zM460.48 348.59h0.72v8.03h-0.72zM471.28 348.59h0.72v8.03h-0.72zM312.36 356.62h0.72v8.03h-0.72zM315.95 356.62h0.72v8.03h-0.72zM326.74 356.62h0.72v8.03h-0.72zM354.79 356.62h0.72v8.03h-0.72zM357.66 356.62h0.72v8.03h-0.72zM359.1 356.62h0.72v8.03h-0.72zM365.57 356.62h0.72v8.03h-0.72zM369.89 356.62h0.72v8.03h-0.72zM381.39 356.62h0.72v8.03h-0.72zM392.9 356.62h0.72v8.03h-0.72zM406.57 356.62h0.72v8.03h-0.72zM415.91 356.62h0.72v8.03h-0.72zM423.82 356.62h0.72v8.03h-0.72zM432.45 356.62h0.72v8.03h-0.72zM433.89 356.62h0.72v8.03h-0.72zM460.5 356.62h0.72v8.03h-0.72zM464.82 356.62h0.72v8.03h-0.72zM471.29 356.62h0.72v8.03h-0.72zM292.94 364.65h0.72v8.03h-0.72zM323.86 364.65h1.44v8.03h-1.44zM328.18 364.65h0.72v8.03h-0.72zM337.53 364.65h0.72v8.03h-0.72zM349.03 364.65h0.72v8.03h-0.72zM394.34 364.65h0.72v8.03h-0.72zM395.78 364.65h0.72v8.03h-0.72zM428.14 364.65h0.72v8.03h-0.72zM436.77 364.65h0.72v8.03h-0.72zM443.96 364.65h0.72v8.03h-0.72zM449.71 364.65h0.72v8.03h-0.72zM457.63 364.65h0.72v8.03h-0.72zM471.29 364.65h0.72v8.03h-0.72zM307.32 372.68h0.72v8.03h-0.72zM310.92 372.68h0.72v8.03h-0.72zM382.11 372.68h0.72v8.03h-0.72zM418.07 372.68h0.72v8.03h-0.72zM419.51 372.68h0.72v8.03h-0.72zM432.45 372.68h0.72v8.03h-0.72zM433.89 372.68h0.72v8.03h-0.72zM458.34 372.68h0.72v8.03h-0.72zM466.26 372.68h0.72v8.03h-0.72zM472.01 372.68h0.72v8.03h-0.72zM478.48 372.68h0.72v8.03h-0.72zM294.38 380.71h0.72v8.03h-0.72zM324.58 380.71h0.72v8.03h-0.72zM360.54 380.71h0.72v8.03h-0.72zM364.13 380.71h0.72v8.03h-0.72zM311.64 420.86h1.44v8.03h-1.44zM367.01 420.86h0.72v8.03h-0.72zM387.15 420.86h0.72v8.03h-0.72zM390.02 420.86h0.72v8.03h-0.72zM402.25 420.86h0.72v8.03h-0.72zM427.42 420.86h1.44v8.03h-1.44zM461.22 420.86h0.72v8.03h-0.72z"/>
<path fill="#5b7bb2" d="M60.8 324.5h0.7v8.03h-0.7zM57.3 332.53h0.71v8.03h-0.71zM62.27 332.53h0.71v8.03h-0.71zM64.39 332.53h0.71v8.03h-0.71zM72.2 332.53h0.71v8.03h-0.71zM73.62 332.53h1.42v8.03h-1.42zM75.74 332.53h0.71v8.03h-0.71zM80.71 332.53h0.71v8.03h-0.71zM82.82 332.53h0.71v8.03h-0.71zM76.84 340.56h0.72v8.03h-0.72zM63.81 348.59h0.72v8.03h-0.72zM58.73 356.62h0.71v8.03h-0.71zM69.43 356.62h0.71v8.03h-0.71zM74.42 356.62h0.71v8.03h-0.71zM61.64 412.83h0.72v8.03h-0.72zM88.42 412.83h0.72v8.03h-0.72zM94.21 412.83h0.72v8.03h-0.72zM70.04 428.89h0.71v8.03h-0.71zM85.71 428.89h0.71v8.03h-0.71zM106.17 324.5h0.73v8.03h-0.73zM110.46 332.53h1.44v8.03h-1.44zM112.62 332.53h1.44v8.03h-1.44zM130.58 332.53h0.71v8.03h-0.71zM132.01 332.53h0.71v8.03h-0.71zM135.58 332.53h1.43v8.03h-1.43zM137.73 332.53h0.71v8.03h-0.71zM139.16 332.53h1.43v8.03h-1.43zM116.14 340.56h0.72v8.03h-0.72zM132.63 340.56h0.72v8.03h-0.72zM134.79 340.56h0.72v8.03h-0.72zM150.56 340.56h0.72v8.03h-0.72zM129.05 348.59h0.72v8.03h-0.72zM103.95 356.62h0.72v8.03h-0.72zM139.09 356.62h0.72v8.03h-0.72zM145.54 356.62h0.72v8.03h-0.72zM116.14 364.65h0.72v8.03h-0.72zM137.65 372.68h0.72v8.03h-0.72zM130.48 380.71h0.72v8.03h-0.72zM152 380.71h0.72v8.03h-0.72zM115.51 388.74h1.44v8.03h-1.44zM119.84 388.74h0.72v8.03h-0.72zM121.28 388.74h0.72v8.03h-0.72zM141.3 388.74h0.71v8.03h-0.71zM143.44 388.74h0.71v8.03h-0.71zM145.59 388.74h0.71v8.03h-0.71zM147.73 388.74h0.71v8.03h-0.71zM149.88 388.74h1.43v8.03h-1.43zM152.74 388.74h0.71v8.03h-0.71zM108.97 396.77h1.43v8.03h-1.43zM124.03 396.77h0.72v8.03h-0.72zM126.18 396.77h0.72v8.03h-0.72zM141.24 396.77h0.72v8.03h-0.72zM121.16 404.8h0.72v8.03h-0.72zM123.31 404.8h0.72v8.03h-0.72zM146.98 404.8h0.72v8.03h-0.72zM121.16 420.86h0.72v8.03h-0.72zM132.63 420.86h0.72v8.03h-0.72zM136.22 420.86h0.72v8.03h-0.72zM145.54 420.86h0.72v8.03h-0.72zM147.69 420.86h0.72v8.03h-0.72zM150.56 420.86h0.72v8.03h-0.72zM135.59 428.89h0.71v8.03h-0.71zM166.55 324.5h0.71v8.03h-0.71zM186.36 324.5h0.71v8.03h-0.71zM187.78 324.5h1.42v8.03h-1.42zM162.3 332.53h0.74v8.03h-0.74zM185.65 332.53h0.71v8.03h-0.71zM187.78 332.53h0.71v8.03h-0.71zM207.12 332.53h0.72v8.03h-0.72zM211.46 332.53h0.72v8.03h-0.72zM214.35 332.53h0.72v8.03h-0.72zM217.24 332.53h0.72v8.03h-0.72zM221.58 332.53h0.72v8.03h-0.72zM223.75 332.53h0.72v8.03h-0.72zM187.53 340.56h0.72v8.03h-0.72zM243.03 340.56h0.72v8.03h-0.72zM246.63 340.56h0.72v8.03h-0.72zM188.2 348.59h0.72v8.03h-0.72zM222.02 348.59h0.72v8.03h-0.72zM231.38 348.59h0.72v8.03h-0.72zM172.37 356.62h0.72v8.03h-0.72zM184.59 356.62h0.72v8.03h-0.72zM188.9 356.62h0.72v8.03h-0.72zM201.13 356.62h0.72v8.03h-0.72zM227.01 356.62h0.72v8.03h-0.72zM237.8 356.62h0.72v8.03h-0.72zM245.71 356.62h0.72v8.03h-0.72zM252.18 356.62h0.72v8.03h-0.72zM269 356.62h0.73v8.03h-0.73zM271.2 356.62h0.73v8.03h-0.73zM273.4 356.62h0.73v8.03h-0.73zM276.33 356.62h0.73v8.03h-0.73zM278.53 356.62h0.73v8.03h-0.73zM163.74 364.65h0.72v8.03h-0.72zM165.91 364.65h0.72v8.03h-0.72zM244.62 364.65h0.72v8.03h-0.72zM188.27 372.68h0.72v8.03h-0.72zM209.92 372.68h0.72v8.03h-0.72zM220.02 372.68h0.72v8.03h-0.72zM227.23 372.68h0.72v8.03h-0.72zM266.91 372.68h0.72v8.03h-0.72zM188.27 380.71h0.72v8.03h-0.72zM201.26 380.71h0.72v8.03h-0.72zM233.73 380.71h0.72v8.03h-0.72zM239.5 380.71h0.72v8.03h-0.72zM182.87 396.77h0.71v8.03h-0.71zM207.29 396.77h0.72v8.03h-0.72zM214.49 396.77h1.44v8.03h-1.44zM240.38 396.77h0.72v8.03h-0.72zM257.64 396.77h0.72v8.03h-0.72zM261.23 396.77h0.72v8.03h-0.72zM279.93 396.77h0.72v8.03h-0.72zM163.02 404.8h0.72v8.03h-0.72zM170.22 404.8h0.72v8.03h-0.72zM175.97 404.8h0.72v8.03h-0.72zM181.73 404.8h0.72v8.03h-0.72zM199.72 404.8h0.72v8.03h-0.72zM234.25 404.8h0.72v8.03h-0.72zM237.85 404.8h0.72v8.03h-0.72zM248.65 404.8h0.72v8.03h-0.72zM250.8 404.8h0.72v8.03h-0.72zM275.79 404.8h0.72v8.03h-0.72zM282.97 404.8h0.72v8.03h-0.72zM166.61 420.86h0.72v8.03h-0.72zM168.77 420.86h0.72v8.03h-0.72zM176.68 420.86h0.72v8.03h-0.72zM219.09 420.86h0.72v8.03h-0.72zM224.12 420.86h0.72v8.03h-0.72zM248.56 420.86h0.72v8.03h-0.72zM231.56 428.89h0.72v8.03h-0.72zM271.96 428.89h0.72v8.03h-0.72zM302.24 324.5h0.72v8.03h-0.72zM303.67 324.5h0.72v8.03h-0.72zM380.02 324.5h0.72v8.03h-0.72zM382.91 324.5h0.72v8.03h-0.72zM300.05 332.53h0.71v8.03h-0.71zM302.9 332.53h0.71v8.03h-0.71zM306.47 332.53h0.71v8.03h-0.71zM322.15 332.53h0.71v8.03h-0.71zM379.95 332.53h0.71v8.03h-0.71zM382.79 332.53h0.71v8.03h-0.71zM393.43 332.53h1.43v8.03h-1.43zM317.41 340.56h0.72v8.03h-0.72zM326.76 340.56h1.44v8.03h-1.44zM329.64 340.56h0.72v8.03h-0.72zM333.96 340.56h0.72v8.03h-0.72zM336.84 340.56h0.72v8.03h-0.72zM340.44 340.56h1.44v8.03h-1.44zM346.19 340.56h0.72v8.03h-0.72zM347.63 340.56h0.72v8.03h-0.72zM349.07 340.56h0.72v8.03h-0.72zM351.23 340.56h0.72v8.03h-0.72zM354.83 340.56h0.72v8.03h-0.72zM356.27 340.56h0.72v8.03h-0.72zM357.71 340.56h0.72v8.03h-0.72zM359.87 340.56h0.72v8.03h-0.72zM361.31 340.56h0.72v8.03h-0.72zM364.19 340.56h0.72v8.03h-0.72zM415.95 340.56h0.72v8.03h-0.72zM419.54 340.56h1.44v8.03h-1.44zM424.57 340.56h1.44v8.03h-1.44zM427.45 340.56h1.44v8.03h-1.44zM430.32 340.56h2.16v8.03h-2.16zM437.51 340.56h0.72v8.03h-0.72zM444.7 340.56h0.72v8.03h-0.72zM446.86 340.56h0.72v8.03h-0.72zM329.58 348.59h0.72v8.03h-0.72zM351.86 348.59h0.72v8.03h-0.72zM375.57 348.59h0.72v8.03h-0.72zM461.92 348.59h0.72v8.03h-0.72zM472 348.59h0.72v8.03h-0.72zM478.48 348.59h0.72v8.03h-0.72zM296.53 356.62h0.72v8.03h-0.72zM301.57 356.62h0.72v8.03h-0.72zM319.55 356.62h0.72v8.03h-0.72zM323.86 356.62h0.72v8.03h-0.72zM325.3 356.62h0.72v8.03h-0.72zM361.26 356.62h0.72v8.03h-0.72zM367.01 356.62h0.72v8.03h-0.72zM368.45 356.62h0.72v8.03h-0.72zM383.55 356.62h0.72v8.03h-0.72zM387.15 356.62h0.72v8.03h-0.72zM391.46 356.62h0.72v8.03h-0.72zM395.06 356.62h0.72v8.03h-0.72zM401.53 356.62h0.72v8.03h-0.72zM416.63 356.62h0.72v8.03h-0.72zM431.02 356.62h0.72v8.03h-0.72zM435.33 356.62h0.72v8.03h-0.72zM454.75 356.62h0.72v8.03h-0.72zM465.54 356.62h0.72v8.03h-0.72zM470.57 356.62h0.72v8.03h-0.72zM296.53 364.65h0.72v8.03h-0.72zM338.25 364.65h0.72v8.03h-0.72zM343.28 364.65h0.72v8.03h-0.72zM359.82 364.65h0.72v8.03h-0.72zM385.71 364.65h0.72v8.03h-0.72zM414.48 364.65h0.72v8.03h-0.72zM416.63 364.65h0.72v8.03h-0.72zM432.45 364.65h0.72v8.03h-0.72zM445.4 364.65h0.72v8.03h-0.72zM451.15 364.65h0.72v8.03h-0.72zM459.78 364.65h0.72v8.03h-0.72zM297.25 372.68h0.72v8.03h-0.72zM447.56 372.68h0.72v8.03h-0.72zM467.69 380.71h0.72v8.03h-0.72zM381.39 388.74h0.72v8.03h-0.72zM303.01 396.77h0.72v8.03h-0.72zM313.07 420.86h0.72v8.03h-0.72zM323.14 420.86h0.72v8.03h-0.72zM336.81 420.86h0.72v8.03h-0.72zM355.5 420.86h0.72v8.03h-0.72zM395.06 420.86h0.72v8.03h-0.72zM396.5 420.86h0.72v8.03h-0.72zM405.13 420.86h0.72v8.03h-0.72z"/>
<path fill="#839dc8" d="M61.5 324.5h1.4v8.03h-1.4zM71.43 324.5h0.71v8.03h-0.71zM59.43 332.53h0.71v8.03h-0.71zM69.36 332.53h0.71v8.03h-0.71zM72.91 332.53h0.71v8.03h-0.71zM75.03 332.53h0.71v8.03h-0.71zM85.65 332.53h0.71v8.03h-0.71zM89.18 332.53h0.71v8.03h-0.71zM59.44 356.62h0.71v8.03h-0.71zM67.29 356.62h1.43v8.03h-1.43zM73.71 356.62h0.71v8.03h-0.71zM92.89 356.62h0.71v8.03h-0.71zM79.74 364.65h0.72v8.03h-0.72zM73.22 372.68h0.72v8.03h-0.72zM61.64 396.77h0.72v8.03h-0.72zM68.88 396.77h0.72v8.03h-0.72zM63.09 404.8h0.72v8.03h-0.72zM76.12 404.8h0.72v8.03h-0.72zM65.98 412.83h0.72v8.03h-0.72zM69.6 412.83h0.72v8.03h-0.72zM76.12 412.83h0.72v8.03h-0.72zM84.08 412.83h0.72v8.03h-0.72zM86.97 412.83h0.72v8.03h-0.72zM89.14 412.83h0.72v8.03h-0.72zM91.32 412.83h0.72v8.03h-0.72zM96.38 412.83h0.72v8.03h-0.72zM67.43 420.86h0.72v8.03h-0.72zM99.28 420.86h0.72v8.03h-0.72zM65.09 428.89h0.71v8.03h-0.71zM108.36 324.5h1.46v8.03h-1.46zM126.36 324.5h0.73v8.03h-0.73zM119.84 332.53h0.72v8.03h-0.72zM121.28 332.53h0.72v8.03h-0.72zM140.59 332.53h0.71v8.03h-0.71zM143.44 332.53h0.71v8.03h-0.71zM147.02 332.53h0.71v8.03h-0.71zM149.16 332.53h0.71v8.03h-0.71zM108.97 340.56h0.72v8.03h-0.72zM117.58 340.56h0.72v8.03h-0.72zM120.44 340.56h0.72v8.03h-0.72zM127.61 340.56h0.72v8.03h-0.72zM133.35 340.56h0.72v8.03h-0.72zM136.22 340.56h0.72v8.03h-0.72zM145.54 340.56h1.43v8.03h-1.43zM154.86 340.56h0.72v8.03h-0.72zM158.45 340.56h0.72v8.03h-0.72zM137.65 348.59h0.72v8.03h-0.72zM144.11 348.59h0.72v8.03h-0.72zM111.12 356.62h0.72v8.03h-0.72zM127.61 356.62h0.72v8.03h-0.72zM139.8 356.62h0.72v8.03h-0.72zM127.61 364.65h0.72v8.03h-0.72zM106.82 380.71h1.43v8.03h-1.43zM159.17 380.71h0.72v8.03h-0.72zM157.74 388.74h0.71v8.03h-0.71zM119.01 396.77h0.72v8.03h-0.72zM144.82 396.77h0.72v8.03h-0.72zM156.3 396.77h0.72v8.03h-0.72zM159.88 396.77h0.72v8.03h-0.72zM107.54 420.86h1.43v8.03h-1.43zM127.61 420.86h0.72v8.03h-0.72zM109.09 428.89h0.73v8.03h-0.73zM170.71 332.53h0.71v8.03h-0.71zM172.86 332.53h1.43v8.03h-1.43zM192.03 332.53h0.71v8.03h-0.71zM193.45 332.53h0.71v8.03h-0.71zM225.92 332.53h2.89v8.03h-2.89zM229.53 332.53h0.72v8.03h-0.72zM231.7 332.53h2.17v8.03h-2.17zM235.31 332.53h0.72v8.03h-0.72zM180.32 340.56h0.72v8.03h-0.72zM186.81 340.56h0.72v8.03h-0.72zM198.34 340.56h0.72v8.03h-0.72zM200.5 340.56h0.72v8.03h-0.72zM210.59 340.56h0.72v8.03h-0.72zM250.23 340.56h0.72v8.03h-0.72zM252.4 340.56h0.72v8.03h-0.72zM229.22 348.59h0.72v8.03h-0.72zM175.24 356.62h0.72v8.03h-0.72zM186.75 356.62h0.72v8.03h-0.72zM191.78 356.62h0.72v8.03h-0.72zM216.23 356.62h0.72v8.03h-0.72zM229.17 356.62h0.72v8.03h-0.72zM232.77 356.62h0.72v8.03h-0.72zM206.35 364.65h0.72v8.03h-0.72zM182.5 372.68h0.72v8.03h-0.72zM242.38 372.68h0.72v8.03h-0.72zM237.33 380.71h0.72v8.03h-0.72zM246.71 380.71h0.72v8.03h-0.72zM192.19 396.77h0.72v8.03h-0.72zM201.54 396.77h0.72v8.03h-0.72zM218.8 396.77h0.72v8.03h-0.72zM227.43 396.77h0.72v8.03h-0.72zM230.31 396.77h0.72v8.03h-0.72zM235.34 396.77h0.72v8.03h-0.72zM254.76 396.77h0.72v8.03h-0.72zM276.34 396.77h0.72v8.03h-0.72zM185.33 404.8h0.72v8.03h-0.72zM192.52 404.8h0.72v8.03h-0.72zM206.91 404.8h0.72v8.03h-0.72zM208.35 404.8h0.72v8.03h-0.72zM214.11 404.8h0.72v8.03h-0.72zM215.55 404.8h0.72v8.03h-0.72zM244.33 404.8h0.72v8.03h-0.72zM247.21 404.8h0.72v8.03h-0.72zM256.56 404.8h0.72v8.03h-0.72zM261.44 404.8h0.72v8.03h-0.72zM264.31 404.8h0.72v8.03h-0.72zM267.18 404.8h0.72v8.03h-0.72zM270.05 404.8h0.72v8.03h-0.72zM272.21 404.8h0.72v8.03h-0.72zM276.51 404.8h0.72v8.03h-0.72zM282.26 404.8h0.72v8.03h-0.72zM171.65 420.86h0.72v8.03h-0.72zM175.96 420.86h0.72v8.03h-0.72zM184.58 420.86h0.72v8.03h-0.72zM191.05 420.86h0.72v8.03h-0.72zM198.24 420.86h0.72v8.03h-0.72zM215.5 420.86h1.44v8.03h-1.44zM231.31 420.86h0.72v8.03h-0.72zM239.94 420.86h0.72v8.03h-0.72zM307.25 324.5h0.72v8.03h-0.72zM309.4 324.5h0.72v8.03h-0.72zM310.83 324.5h1.43v8.03h-1.43zM385.07 324.5h0.72v8.03h-0.72zM293.64 332.53h0.71v8.03h-0.71zM307.89 332.53h0.71v8.03h-0.71zM310.74 332.53h0.71v8.03h-0.71zM317.87 332.53h1.43v8.03h-1.43zM381.37 332.53h0.71v8.03h-0.71zM385.62 332.53h0.71v8.03h-0.71zM387.75 332.53h1.42v8.03h-1.42zM390.58 332.53h0.71v8.03h-0.71zM402 332.53h0.71v8.03h-0.71zM404.14 332.53h0.71v8.03h-0.71zM368.5 340.56h0.72v8.03h-0.72zM370.66 340.56h0.72v8.03h-0.72zM453.32 340.56h0.72v8.03h-0.72zM454.76 340.56h0.72v8.03h-0.72zM456.92 340.56h0.72v8.03h-0.72zM465.54 340.56h0.72v8.03h-0.72zM467.7 340.56h0.72v8.03h-0.72zM470.57 340.56h1.44v8.03h-1.44zM474.17 340.56h0.72v8.03h-0.72zM475.61 340.56h0.72v8.03h-0.72zM477.04 340.56h0.72v8.03h-0.72zM349.7 348.59h0.72v8.03h-0.72zM402.88 348.59h0.72v8.03h-0.72zM421.6 348.59h0.72v8.03h-0.72zM466.96 348.59h0.72v8.03h-0.72zM316.67 356.62h0.72v8.03h-0.72zM320.27 356.62h0.72v8.03h-0.72zM328.9 356.62h0.72v8.03h-0.72zM344.72 356.62h0.72v8.03h-0.72zM356.22 356.62h0.72v8.03h-0.72zM359.82 356.62h0.72v8.03h-0.72zM364.85 356.62h0.72v8.03h-0.72zM373.48 356.62h0.72v8.03h-0.72zM384.27 356.62h0.72v8.03h-0.72zM400.09 356.62h0.72v8.03h-0.72zM405.13 356.62h0.72v8.03h-0.72zM414.48 356.62h0.72v8.03h-0.72zM417.35 356.62h0.72v8.03h-0.72zM434.61 356.62h0.72v8.03h-0.72zM445.4 356.62h0.72v8.03h-0.72zM455.47 356.62h0.72v8.03h-0.72zM456.91 356.62h0.72v8.03h-0.72zM469.85 356.62h0.72v8.03h-0.72zM477.04 356.62h0.72v8.03h-0.72zM316.67 364.65h0.72v8.03h-0.72zM321.7 364.65h0.72v8.03h-0.72zM333.93 364.65h0.72v8.03h-0.72zM350.47 364.65h0.72v8.03h-0.72zM373.48 364.65h0.72v8.03h-0.72zM378.52 364.65h0.72v8.03h-0.72zM384.99 364.65h0.72v8.03h-0.72zM412.32 364.65h0.72v8.03h-0.72zM415.91 364.65h0.72v8.03h-0.72zM431.02 364.65h0.72v8.03h-0.72zM464.1 364.65h0.72v8.03h-0.72zM468.41 364.65h1.44v8.03h-1.44zM470.57 364.65h0.72v8.03h-0.72zM391.46 372.68h0.72v8.03h-0.72zM444.68 372.68h0.72v8.03h-0.72zM449 372.68h0.72v8.03h-0.72zM296.53 388.74h0.72v8.03h-0.72zM410.16 388.74h0.72v8.03h-0.72zM430.3 388.74h0.72v8.03h-0.72zM454.75 388.74h0.72v8.03h-0.72zM454.03 396.77h0.72v8.03h-0.72zM456.19 396.77h0.72v8.03h-0.72zM344.72 412.83h0.72v8.03h-0.72zM313.79 420.86h0.72v8.03h-0.72zM377.8 420.86h0.72v8.03h-0.72zM460.5 420.86h0.72v8.03h-0.72zM462.66 420.86h0.72v8.03h-0.72zM464.1 420.86h0.72v8.03h-0.72z"/>
<path fill="#a0b6d8" d="M62.9 324.5h0.7v8.03h-0.7zM70.71 324.5h0.71v8.03h-0.71zM76.43 324.5h0.71v8.03h-0.71zM60.14 332.53h0.71v8.03h-0.71zM70.07 332.53h0.71v8.03h-0.71zM77.16 332.53h0.71v8.03h-0.71zM90.59 332.53h0.71v8.03h-0.71zM60.19 340.56h0.72v8.03h-0.72zM92.04 340.56h0.72v8.03h-0.72zM58.01 356.62h0.71v8.03h-0.71zM72.29 356.62h0.71v8.03h-0.71zM75.39 372.68h0.72v8.03h-0.72zM74.67 380.71h0.72v8.03h-0.72zM78.29 380.71h0.72v8.03h-0.72zM79.01 396.77h0.72v8.03h-0.72zM95.66 404.8h0.72v8.03h-0.72zM60.92 412.83h0.72v8.03h-0.72zM65.26 412.83h0.72v8.03h-0.72zM73.22 412.83h0.72v8.03h-0.72zM78.29 412.83h0.72v8.03h-0.72zM81.18 412.83h1.45v8.03h-1.45zM92.04 412.83h0.72v8.03h-0.72zM95.66 412.83h0.72v8.03h-0.72zM69.6 420.86h0.72v8.03h-0.72zM57.3 428.89h0.71v8.03h-0.71zM65.8 428.89h0.71v8.03h-0.71zM71.46 428.89h0.71v8.03h-0.71zM74.29 428.89h0.71v8.03h-0.71zM109.81 324.5h1.46v8.03h-1.46zM127.82 324.5h0.73v8.03h-0.73zM147.73 332.53h0.71v8.03h-0.71zM149.88 332.53h2.86v8.03h-2.86zM155.6 332.53h1.43v8.03h-1.43zM113.99 340.56h0.72v8.03h-0.72zM119.01 340.56h0.72v8.03h-0.72zM140.52 340.56h0.72v8.03h-0.72zM116.14 348.59h0.72v8.03h-0.72zM108.25 372.68h0.72v8.03h-0.72zM141.96 380.71h0.72v8.03h-0.72zM157.01 380.71h0.72v8.03h-0.72zM105.39 396.77h0.72v8.03h-0.72zM110.4 396.77h0.72v8.03h-0.72zM118.29 396.77h0.72v8.03h-0.72zM119.73 396.77h0.72v8.03h-0.72zM131.92 396.77h0.72v8.03h-0.72zM146.98 396.77h0.72v8.03h-0.72zM111.12 420.86h0.72v8.03h-0.72zM192.74 324.5h0.71v8.03h-0.71zM233.87 332.53h1.45v8.03h-1.45zM236.76 332.53h2.89v8.03h-2.89zM241.1 332.53h0.72v8.03h-0.72zM246.88 332.53h1.45v8.03h-1.45zM251.22 332.53h0.72v8.03h-0.72zM252.66 332.53h0.72v8.03h-0.72zM197.62 340.56h0.72v8.03h-0.72zM199 348.59h0.72v8.03h-0.72zM193.22 356.62h0.72v8.03h-0.72zM196.81 356.62h0.72v8.03h-0.72zM243.55 356.62h0.72v8.03h-0.72zM260.81 356.62h0.72v8.03h-0.72zM264.4 356.62h0.72v8.03h-0.72zM228.73 364.65h0.72v8.03h-0.72zM197.23 396.77h0.72v8.03h-0.72zM205.86 396.77h0.72v8.03h-0.72zM231.75 396.77h0.72v8.03h-0.72zM246.85 396.77h0.72v8.03h-0.72zM248.29 396.77h0.72v8.03h-0.72zM250.45 396.77h0.72v8.03h-0.72zM272.74 396.77h0.72v8.03h-0.72zM287.12 396.77h0.72v8.03h-0.72zM193.24 404.8h0.72v8.03h-0.72zM221.3 404.8h0.72v8.03h-0.72zM232.82 404.8h0.72v8.03h-0.72zM252.24 404.8h0.72v8.03h-0.72zM183.87 420.86h0.72v8.03h-0.72zM235.62 420.86h0.72v8.03h-0.72zM247.12 420.86h0.72v8.03h-0.72zM287.86 420.86h0.71v8.03h-0.71zM312.26 324.5h2.15v8.03h-2.15zM387.95 324.5h1.44v8.03h-1.44zM291.5 332.53h0.71v8.03h-0.71zM403.43 332.53h0.71v8.03h-0.71zM468.42 340.56h0.72v8.03h-0.72zM472.01 340.56h0.72v8.03h-0.72zM473.45 340.56h0.72v8.03h-0.72zM474.89 340.56h0.72v8.03h-0.72zM314.49 348.59h0.72v8.03h-0.72zM388.5 348.59h0.72v8.03h-0.72zM457.6 348.59h0.72v8.03h-0.72zM297.25 356.62h0.72v8.03h-0.72zM338.25 356.62h0.72v8.03h-0.72zM342.56 356.62h0.72v8.03h-0.72zM361.98 356.62h0.72v8.03h-0.72zM374.2 356.62h0.72v8.03h-0.72zM390.02 356.62h0.72v8.03h-0.72zM408.72 356.62h0.72v8.03h-0.72zM449 356.62h0.72v8.03h-0.72zM320.27 364.65h0.72v8.03h-0.72zM322.42 364.65h0.72v8.03h-0.72zM331.05 364.65h0.72v8.03h-0.72zM357.66 364.65h0.72v8.03h-0.72zM361.26 364.65h0.72v8.03h-0.72zM367.01 364.65h0.72v8.03h-0.72zM379.24 364.65h0.72v8.03h-0.72zM431.74 364.65h0.72v8.03h-0.72zM454.03 364.65h0.72v8.03h-0.72zM456.91 364.65h0.72v8.03h-0.72zM458.34 364.65h0.72v8.03h-0.72zM351.91 396.77h0.72v8.03h-0.72zM298.69 420.86h0.72v8.03h-0.72zM395.78 420.86h0.72v8.03h-0.72zM425.98 420.86h0.72v8.03h-0.72z"/>
<path fill="#aec2e0" d="M63.6 324.5h0.7v8.03h-0.7zM72.14 324.5h0.71v8.03h-0.71zM73.57 324.5h1.43v8.03h-1.43zM75.71 324.5h0.71v8.03h-0.71zM77.86 324.5h1.43v8.03h-1.43zM60.85 332.53h0.71v8.03h-0.71zM79.29 332.53h0.71v8.03h-0.71zM57.3 356.62h0.71v8.03h-0.71zM97.83 380.71h0.72v8.03h-0.72zM67.92 428.89h0.71v8.03h-0.71zM152.74 332.53h2.14v8.03h-2.14zM157.74 332.53h0.71v8.03h-0.71zM169.38 324.5h1.42v8.03h-1.42zM239.65 332.53h0.72v8.03h-0.72zM241.82 332.53h0.72v8.03h-0.72zM243.27 332.53h1.45v8.03h-1.45zM245.43 332.53h1.45v8.03h-1.45zM249.05 332.53h1.45v8.03h-1.45zM315.12 324.5h2.86v8.03h-2.86zM318.7 324.5h1.43v8.03h-1.43zM405.57 332.53h0.71v8.03h-0.71zM438.21 364.65h0.72v8.03h-0.72z"/>
<path fill="#c4d3e9" d="M64.3 324.5h0.7v8.03h-0.7zM66.3 324.5h0.65v8.03h-0.65zM80 324.5h0.71v8.03h-0.71zM82.86 324.5h0.71v8.03h-0.71zM111.27 324.5h0.73v8.03h-0.73zM158.46 332.53h0.71v8.03h-0.71zM170.79 324.5h0.71v8.03h-0.71zM254.11 332.53h0.72v8.03h-0.72zM255.55 332.53h0.72v8.03h-0.72zM317.99 324.5h0.72v8.03h-0.72zM390.84 324.5h1.44v8.03h-1.44z"/>
<path fill="#d9e4f2" d="M65 324.5h0.65v8.03h-0.65zM80.71 324.5h1.43v8.03h-1.43zM86.43 324.5h0.71v8.03h-0.71zM88.57 324.5h1.43v8.03h-1.43zM196.29 324.5h0.71v8.03h-0.71z"/>
<path fill="#cedbed" d="M65.65 324.5h0.65v8.03h-0.65zM82.14 324.5h0.71v8.03h-0.71zM83.57 324.5h2.86v8.03h-2.86zM87.14 324.5h1.43v8.03h-1.43zM129.27 324.5h0.73v8.03h-0.73zM321.57 324.5h0.72v8.03h-0.72zM392.28 324.5h0.72v8.03h-0.72z"/>
<path fill="#e4ecf6" d="M66.95 324.5h0.65v8.03h-0.65z"/>
<path fill="#204584" d="M67.6 324.5h0.8v8.03h-0.8zM122 388.74h0.71v8.03h-0.71zM125.57 388.74h0.71v8.03h-0.71zM127 388.74h1.43v8.03h-1.43zM182.1 324.5h1.42v8.03h-1.42zM258.67 340.56h0.67v8.03h-0.67zM260.73 348.59h0.73v8.03h-0.73zM262.18 348.59h0.73v8.03h-0.73zM282.33 364.65h0.67v8.03h-0.67zM283.67 364.65h1.33v8.03h-1.33zM291.5 324.5h0.72v8.03h-0.72z"/>
<path fill="#2e5698" d="M69.2 324.5h0.8v8.03h-0.8zM62.37 340.56h0.72v8.03h-0.72zM103.26 324.5h0.73v8.03h-0.73zM104.71 324.5h0.73v8.03h-0.73zM122.73 324.5h0.73v8.03h-0.73zM102.52 332.53h0.72v8.03h-0.72zM104.67 340.56h0.72v8.03h-0.72zM106.82 340.56h0.72v8.03h-0.72zM103.96 388.74h0.72v8.03h-0.72zM106.13 388.74h0.72v8.03h-0.72zM108.29 388.74h0.72v8.03h-0.72zM109.74 388.74h0.72v8.03h-0.72zM128.43 388.74h0.71v8.03h-0.71zM130.58 388.74h1.43v8.03h-1.43zM134.15 388.74h2.14v8.03h-2.14zM125.46 396.77h0.72v8.03h-0.72zM130.48 396.77h0.72v8.03h-0.72zM106.82 420.86h0.72v8.03h-0.72zM148.41 420.86h0.72v8.03h-0.72zM183.52 324.5h0.71v8.03h-0.71zM184.94 324.5h0.71v8.03h-0.71zM198.45 332.53h0.72v8.03h-0.72zM256 340.56h1.33v8.03h-1.33zM261.45 348.59h0.73v8.03h-0.73zM263.64 348.59h1.45v8.03h-1.45zM266.55 348.59h1.45v8.03h-1.45zM163.02 356.62h2.16v8.03h-2.16zM173.8 356.62h0.72v8.03h-0.72zM190.34 356.62h0.72v8.03h-0.72zM217.67 356.62h0.72v8.03h-0.72zM221.98 356.62h1.44v8.03h-1.44zM226.3 356.62h0.72v8.03h-0.72zM239.24 356.62h0.72v8.03h-0.72zM246.43 356.62h0.72v8.03h-0.72zM260.09 356.62h0.72v8.03h-0.72zM266.56 356.62h0.72v8.03h-0.72zM281 364.65h1.33v8.03h-1.33zM187.88 396.77h0.72v8.03h-0.72zM210.89 396.77h0.72v8.03h-0.72zM228.15 396.77h0.72v8.03h-0.72zM241.82 396.77h0.72v8.03h-0.72zM273.46 396.77h0.72v8.03h-0.72zM275.62 396.77h0.72v8.03h-0.72zM282.81 396.77h0.72v8.03h-0.72zM292.93 324.5h1.43v8.03h-1.43zM295.8 324.5h0.72v8.03h-0.72zM297.23 324.5h0.72v8.03h-0.72zM378.58 324.5h0.72v8.03h-0.72zM328.8 332.53h1.4v8.03h-1.4zM332.3 332.53h0.7v8.03h-0.7zM291.5 340.56h0.72v8.03h-0.72zM293.66 340.56h1.44v8.03h-1.44zM295.82 340.56h0.72v8.03h-0.72zM304.45 340.56h0.72v8.03h-0.72zM305.89 340.56h0.72v8.03h-0.72zM309.49 340.56h1.44v8.03h-1.44zM375.7 340.56h1.44v8.03h-1.44zM378.57 340.56h0.72v8.03h-0.72zM382.89 340.56h0.72v8.03h-0.72zM384.32 340.56h0.72v8.03h-0.72zM387.2 340.56h0.72v8.03h-0.72zM390.79 340.56h0.72v8.03h-0.72zM393.67 340.56h1.44v8.03h-1.44zM303.73 356.62h0.72v8.03h-0.72zM334.65 356.62h0.72v8.03h-0.72zM341.12 356.62h1.44v8.03h-1.44zM349.75 356.62h0.72v8.03h-0.72zM367.73 356.62h0.72v8.03h-0.72zM378.52 356.62h0.72v8.03h-0.72zM389.31 356.62h0.72v8.03h-0.72zM410.16 356.62h0.72v8.03h-0.72zM411.6 356.62h0.72v8.03h-0.72zM415.2 356.62h0.72v8.03h-0.72zM418.07 356.62h0.72v8.03h-0.72zM433.17 356.62h0.72v8.03h-0.72zM449.71 356.62h0.72v8.03h-0.72zM451.87 356.62h0.72v8.03h-0.72zM461.22 356.62h0.72v8.03h-0.72z"/>
<path fill="#91a9d0" d="M70 324.5h0.71v8.03h-0.71zM72.86 324.5h0.71v8.03h-0.71zM58.01 332.53h0.71v8.03h-0.71zM67.94 332.53h0.71v8.03h-0.71zM71.49 332.53h0.71v8.03h-0.71zM77.87 332.53h0.71v8.03h-0.71zM89.88 332.53h0.71v8.03h-0.71zM91.29 332.53h0.71v8.03h-0.71zM57.3 340.56h0.72v8.03h-0.72zM70.33 340.56h0.72v8.03h-0.72zM63.01 356.62h0.71v8.03h-0.71zM97.83 372.68h0.72v8.03h-0.72zM66.71 380.71h0.72v8.03h-0.72zM71.05 388.74h0.72v8.03h-0.72zM58.75 412.83h0.72v8.03h-0.72zM64.54 412.83h0.72v8.03h-0.72zM68.16 412.83h0.72v8.03h-0.72zM82.63 412.83h0.72v8.03h-0.72zM74.67 420.86h0.72v8.03h-0.72zM69.34 428.89h0.71v8.03h-0.71zM127.09 324.5h0.73v8.03h-0.73zM120.56 332.53h0.72v8.03h-0.72zM142.73 332.53h0.71v8.03h-0.71zM144.87 332.53h0.71v8.03h-0.71zM146.3 332.53h0.71v8.03h-0.71zM148.45 332.53h0.71v8.03h-0.71zM154.88 332.53h0.71v8.03h-0.71zM114.71 340.56h0.72v8.03h-0.72zM119.73 340.56h0.72v8.03h-0.72zM123.31 340.56h0.72v8.03h-0.72zM124.75 340.56h0.72v8.03h-0.72zM113.27 348.59h0.72v8.03h-0.72zM152 348.59h0.72v8.03h-0.72zM129.77 356.62h0.72v8.03h-0.72zM111.12 372.68h0.72v8.03h-0.72zM131.2 380.71h0.72v8.03h-0.72zM159.17 388.74h1.43v8.03h-1.43zM138.37 396.77h0.72v8.03h-0.72zM143.39 396.77h0.72v8.03h-0.72zM109.69 420.86h0.72v8.03h-0.72zM116.14 420.86h0.72v8.03h-0.72zM118.29 420.86h1.43v8.03h-1.43zM138.37 420.86h0.72v8.03h-0.72zM154.15 420.86h0.72v8.03h-0.72zM156.3 420.86h0.72v8.03h-0.72zM106.17 428.89h0.73v8.03h-0.73zM168.67 324.5h0.71v8.03h-0.71zM191.32 324.5h1.42v8.03h-1.42zM193.45 324.5h0.71v8.03h-0.71zM170 332.53h0.71v8.03h-0.71zM230.98 332.53h0.72v8.03h-0.72zM236.04 332.53h0.72v8.03h-0.72zM240.37 332.53h0.72v8.03h-0.72zM242.54 332.53h0.72v8.03h-0.72zM244.71 332.53h0.72v8.03h-0.72zM174.55 340.56h0.72v8.03h-0.72zM194.73 340.56h0.72v8.03h-0.72zM176.68 356.62h1.44v8.03h-1.44zM180.28 356.62h0.72v8.03h-0.72zM191.06 356.62h0.72v8.03h-0.72zM198.25 356.62h0.72v8.03h-0.72zM213.35 356.62h0.72v8.03h-0.72zM216.95 356.62h0.72v8.03h-0.72zM219.82 356.62h0.72v8.03h-0.72zM223.42 356.62h0.72v8.03h-0.72zM234.92 356.62h0.72v8.03h-0.72zM237.08 356.62h0.72v8.03h-0.72zM242.83 356.62h0.72v8.03h-0.72zM249.3 356.62h1.44v8.03h-1.44zM265.12 356.62h0.72v8.03h-0.72zM267.28 356.62h0.72v8.03h-0.72zM196.24 364.65h0.72v8.03h-0.72zM183.94 372.68h0.72v8.03h-0.72zM183.94 380.71h0.72v8.03h-0.72zM170.96 388.74h0.72v8.03h-0.72zM198.37 388.74h0.72v8.03h-0.72zM192.91 396.77h0.72v8.03h-0.72zM197.95 396.77h1.44v8.03h-1.44zM208.01 396.77h0.72v8.03h-0.72zM234.62 396.77h0.72v8.03h-0.72zM239.66 396.77h0.72v8.03h-0.72zM251.88 396.77h0.72v8.03h-0.72zM256.2 396.77h1.44v8.03h-1.44zM259.79 396.77h0.72v8.03h-0.72zM264.83 396.77h0.72v8.03h-0.72zM266.27 396.77h0.72v8.03h-0.72zM270.58 396.77h0.72v8.03h-0.72zM285.68 396.77h0.72v8.03h-0.72zM165.9 404.8h0.72v8.03h-0.72zM172.37 404.8h0.72v8.03h-0.72zM220.58 404.8h0.72v8.03h-0.72zM222.02 404.8h0.72v8.03h-0.72zM225.62 404.8h0.72v8.03h-0.72zM236.41 404.8h0.72v8.03h-0.72zM239.29 404.8h0.72v8.03h-0.72zM252.96 404.8h0.72v8.03h-0.72zM255.12 404.8h0.72v8.03h-0.72zM257.28 404.8h0.72v8.03h-0.72zM273.64 404.8h0.72v8.03h-0.72zM173.08 420.86h0.72v8.03h-0.72zM195.37 420.86h0.72v8.03h-0.72zM216.93 420.86h0.72v8.03h-0.72zM237.78 420.86h1.44v8.03h-1.44zM242.09 420.86h0.72v8.03h-0.72zM247.84 420.86h0.72v8.03h-0.72zM255.71 420.86h0.71v8.03h-0.71zM266.43 420.86h0.71v8.03h-0.71zM310.11 324.5h0.72v8.03h-0.72zM314.41 324.5h0.72v8.03h-0.72zM385.79 324.5h2.16v8.03h-2.16zM302.19 332.53h0.71v8.03h-0.71zM307.18 332.53h0.71v8.03h-0.71zM309.32 332.53h1.43v8.03h-1.43zM314.31 332.53h0.71v8.03h-0.71zM315.73 332.53h0.71v8.03h-0.71zM320.01 332.53h0.71v8.03h-0.71zM379.24 332.53h0.71v8.03h-0.71zM404.86 332.53h0.71v8.03h-0.71zM406.29 332.53h0.71v8.03h-0.71zM455.48 340.56h0.72v8.03h-0.72zM458.36 340.56h0.72v8.03h-0.72zM464.11 340.56h1.44v8.03h-1.44zM466.98 340.56h0.72v8.03h-0.72zM469.14 340.56h0.72v8.03h-0.72zM472.73 340.56h0.72v8.03h-0.72zM476.32 340.56h0.72v8.03h-0.72zM477.76 340.56h1.44v8.03h-1.44zM328.15 348.59h0.72v8.03h-0.72zM338.92 348.59h0.72v8.03h-0.72zM382.04 348.59h0.72v8.03h-0.72zM441.76 348.59h0.72v8.03h-0.72zM297.97 356.62h0.72v8.03h-0.72zM305.88 356.62h0.72v8.03h-0.72zM307.32 356.62h0.72v8.03h-0.72zM326.02 356.62h0.72v8.03h-0.72zM343.28 356.62h0.72v8.03h-0.72zM351.91 356.62h0.72v8.03h-0.72zM382.83 356.62h0.72v8.03h-0.72zM385.71 356.62h0.72v8.03h-0.72zM423.11 356.62h0.72v8.03h-0.72zM428.86 356.62h0.72v8.03h-0.72zM436.05 356.62h0.72v8.03h-0.72zM441.8 356.62h0.72v8.03h-0.72zM456.19 356.62h0.72v8.03h-0.72zM457.63 356.62h0.72v8.03h-0.72zM463.38 356.62h0.72v8.03h-0.72zM293.66 364.65h0.72v8.03h-0.72zM299.41 364.65h0.72v8.03h-0.72zM325.3 364.65h0.72v8.03h-0.72zM330.33 364.65h0.72v8.03h-0.72zM425.98 364.65h0.72v8.03h-0.72zM448.28 364.65h0.72v8.03h-0.72zM460.5 364.65h0.72v8.03h-0.72zM477.76 364.65h0.72v8.03h-0.72zM325.3 372.68h0.72v8.03h-0.72zM338.96 372.68h0.72v8.03h-0.72zM345.44 372.68h0.72v8.03h-0.72zM405.13 372.68h0.72v8.03h-0.72zM422.39 372.68h0.72v8.03h-0.72zM445.4 372.68h0.72v8.03h-0.72zM295.81 380.71h0.72v8.03h-0.72zM401.53 380.71h0.72v8.03h-0.72zM447.56 380.71h0.72v8.03h-0.72zM361.98 388.74h0.72v8.03h-0.72zM297.25 396.77h0.72v8.03h-0.72zM362.7 396.77h0.72v8.03h-0.72zM463.38 396.77h0.72v8.03h-0.72zM365.57 404.8h0.72v8.03h-0.72zM308.76 420.86h0.72v8.03h-0.72zM320.27 420.86h0.72v8.03h-0.72zM335.37 420.86h1.44v8.03h-1.44zM340.4 420.86h0.72v8.03h-0.72zM360.54 420.86h0.72v8.03h-0.72zM380.68 420.86h0.72v8.03h-0.72zM441.08 420.86h0.72v8.03h-0.72zM473.45 420.86h0.72v8.03h-0.72z"/>
<path fill="#b9cae4" d="M75 324.5h0.71v8.03h-0.71zM77.14 324.5h0.71v8.03h-0.71zM79.29 324.5h0.71v8.03h-0.71zM128.55 324.5h0.73v8.03h-0.73zM157.03 332.53h0.71v8.03h-0.71zM159.17 332.53h1.43v8.03h-1.43zM194.16 324.5h2.13v8.03h-2.13zM248.33 332.53h0.72v8.03h-0.72zM250.49 332.53h0.72v8.03h-0.72zM251.94 332.53h0.72v8.03h-0.72zM253.39 332.53h0.72v8.03h-0.72zM254.83 332.53h0.72v8.03h-0.72zM256.28 332.53h0.72v8.03h-0.72zM320.14 324.5h1.43v8.03h-1.43zM322.28 324.5h0.72v8.03h-0.72zM389.4 324.5h1.44v8.03h-1.44z"/>
<path fill="#6684b8" d="M61.56 332.53h0.71v8.03h-0.71zM62.97 332.53h0.71v8.03h-0.71zM65.81 332.53h1.42v8.03h-1.42zM68.65 332.53h0.71v8.03h-0.71zM70.78 332.53h0.71v8.03h-0.71zM83.53 332.53h2.12v8.03h-2.12zM86.35 332.53h2.12v8.03h-2.12zM61.64 340.56h0.72v8.03h-0.72zM61.58 356.62h0.71v8.03h-0.71zM64.44 356.62h0.71v8.03h-0.71zM73 356.62h0.71v8.03h-0.71zM87.21 356.62h0.71v8.03h-0.71zM80.46 364.65h0.72v8.03h-0.72zM91.32 380.71h1.45v8.03h-1.45zM73.95 412.83h0.72v8.03h-0.72zM97.11 412.83h0.72v8.03h-0.72zM96.38 420.86h0.72v8.03h-0.72zM62.26 428.89h0.71v8.03h-0.71zM68.63 428.89h0.71v8.03h-0.71zM107.63 324.5h0.73v8.03h-0.73zM114.06 332.53h1.44v8.03h-1.44zM116.23 332.53h1.44v8.03h-1.44zM118.39 332.53h1.44v8.03h-1.44zM133.44 332.53h0.71v8.03h-0.71zM138.44 332.53h0.71v8.03h-0.71zM141.3 332.53h1.43v8.03h-1.43zM123.31 356.62h0.72v8.03h-0.72zM125.46 356.62h0.72v8.03h-0.72zM112.56 364.65h0.72v8.03h-0.72zM126.18 372.68h2.15v8.03h-2.15zM119.11 388.74h0.72v8.03h-0.72zM148.45 388.74h1.43v8.03h-1.43zM151.31 388.74h0.71v8.03h-0.71zM153.45 388.74h0.71v8.03h-0.71zM155.6 388.74h1.43v8.03h-1.43zM150.56 396.77h0.72v8.03h-0.72zM159.17 396.77h0.72v8.03h-0.72zM124.03 420.86h0.72v8.03h-0.72zM128.33 420.86h0.72v8.03h-0.72zM134.79 420.86h0.72v8.03h-0.72zM136.94 420.86h0.72v8.03h-0.72zM152.71 420.86h0.72v8.03h-0.72zM101.8 428.89h0.73v8.03h-0.73zM189.2 324.5h2.13v8.03h-2.13zM165.26 332.53h0.74v8.03h-0.74zM188.49 332.53h0.71v8.03h-0.71zM194.16 332.53h0.71v8.03h-0.71zM212.18 332.53h0.72v8.03h-0.72zM216.52 332.53h0.72v8.03h-0.72zM218.69 332.53h0.72v8.03h-0.72zM220.86 332.53h0.72v8.03h-0.72zM225.19 332.53h0.72v8.03h-0.72zM228.81 332.53h0.72v8.03h-0.72zM168.07 340.56h0.72v8.03h-0.72zM177.44 340.56h0.72v8.03h-0.72zM241.45 348.59h0.72v8.03h-0.72zM248.65 348.59h0.72v8.03h-0.72zM168.77 356.62h0.72v8.03h-0.72zM193.94 356.62h0.72v8.03h-0.72zM195.38 356.62h0.72v8.03h-0.72zM215.51 356.62h0.72v8.03h-0.72zM218.39 356.62h0.72v8.03h-0.72zM230.61 356.62h0.72v8.03h-0.72zM241.4 356.62h0.72v8.03h-0.72zM271.93 356.62h0.73v8.03h-0.73zM208.51 364.65h0.72v8.03h-0.72zM193.32 372.68h0.72v8.03h-0.72zM246.71 372.68h0.72v8.03h-0.72zM169.51 380.71h0.72v8.03h-0.72zM181.06 380.71h0.72v8.03h-0.72zM196.93 380.71h1.44v8.03h-1.44zM200.54 380.71h0.72v8.03h-0.72zM209.45 396.77h0.72v8.03h-0.72zM218.08 396.77h0.72v8.03h-0.72zM220.24 396.77h0.72v8.03h-0.72zM232.47 396.77h0.72v8.03h-0.72zM267.71 396.77h0.72v8.03h-0.72zM186.76 404.8h0.72v8.03h-0.72zM200.44 404.8h0.72v8.03h-0.72zM201.88 404.8h0.72v8.03h-0.72zM210.51 404.8h0.72v8.03h-0.72zM222.74 404.8h0.72v8.03h-0.72zM260 404.8h0.72v8.03h-0.72zM269.33 404.8h0.72v8.03h-0.72zM270.77 404.8h0.72v8.03h-0.72zM281.54 404.8h0.72v8.03h-0.72zM285.85 404.8h0.72v8.03h-0.72zM169.49 420.86h0.72v8.03h-0.72zM204.71 420.86h0.72v8.03h-0.72zM223.4 420.86h0.72v8.03h-0.72zM260.71 420.86h0.71v8.03h-0.71zM265 420.86h0.71v8.03h-0.71zM267.86 420.86h0.71v8.03h-0.71zM272.14 420.86h0.71v8.03h-0.71zM287.14 420.86h0.71v8.03h-0.71zM301.52 324.5h0.72v8.03h-0.72zM304.39 324.5h0.72v8.03h-0.72zM305.82 324.5h1.43v8.03h-1.43zM307.97 324.5h1.43v8.03h-1.43zM383.63 324.5h1.44v8.03h-1.44zM292.21 332.53h0.71v8.03h-0.71zM295.06 332.53h0.71v8.03h-0.71zM296.49 332.53h0.71v8.03h-0.71zM316.45 332.53h0.71v8.03h-0.71zM323.57 332.53h0.71v8.03h-0.71zM386.33 332.53h0.71v8.03h-0.71zM394.86 332.53h0.71v8.03h-0.71zM396.29 332.53h1.43v8.03h-1.43zM399.14 332.53h2.86v8.03h-2.86zM332.52 340.56h0.72v8.03h-0.72zM341.88 340.56h0.72v8.03h-0.72zM346.91 340.56h0.72v8.03h-0.72zM348.35 340.56h0.72v8.03h-0.72zM349.79 340.56h0.72v8.03h-0.72zM351.95 340.56h0.72v8.03h-0.72zM356.99 340.56h0.72v8.03h-0.72zM358.43 340.56h1.44v8.03h-1.44zM365.62 340.56h0.72v8.03h-0.72zM367.06 340.56h1.44v8.03h-1.44zM369.94 340.56h0.72v8.03h-0.72zM371.38 340.56h0.72v8.03h-0.72zM373.54 340.56h2.16v8.03h-2.16zM423.14 340.56h0.72v8.03h-0.72zM426.01 340.56h1.44v8.03h-1.44zM428.89 340.56h1.44v8.03h-1.44zM432.48 340.56h0.72v8.03h-0.72zM433.92 340.56h0.72v8.03h-0.72zM436.79 340.56h0.72v8.03h-0.72zM438.23 340.56h1.44v8.03h-1.44zM443.26 340.56h1.44v8.03h-1.44zM445.42 340.56h0.72v8.03h-0.72zM447.57 340.56h0.72v8.03h-0.72zM449.01 340.56h1.44v8.03h-1.44zM452.61 340.56h0.72v8.03h-0.72zM454.04 340.56h0.72v8.03h-0.72zM461.23 340.56h1.44v8.03h-1.44zM319.52 348.59h0.72v8.03h-0.72zM342.52 348.59h0.72v8.03h-0.72zM359.04 348.59h0.72v8.03h-0.72zM361.2 348.59h0.72v8.03h-0.72zM406.48 348.59h0.72v8.03h-0.72zM417.28 348.59h0.72v8.03h-0.72zM292.94 356.62h0.72v8.03h-0.72zM298.69 356.62h0.72v8.03h-0.72zM302.29 356.62h0.72v8.03h-0.72zM310.2 356.62h0.72v8.03h-0.72zM311.64 356.62h0.72v8.03h-0.72zM313.79 356.62h0.72v8.03h-0.72zM331.05 356.62h0.72v8.03h-0.72zM372.76 356.62h0.72v8.03h-0.72zM387.87 356.62h0.72v8.03h-0.72zM402.97 356.62h0.72v8.03h-0.72zM412.32 356.62h0.72v8.03h-0.72zM418.79 356.62h0.72v8.03h-0.72zM427.42 356.62h0.72v8.03h-0.72zM438.21 356.62h0.72v8.03h-0.72zM442.52 356.62h0.72v8.03h-0.72zM443.96 356.62h0.72v8.03h-0.72zM446.12 356.62h0.72v8.03h-0.72zM454.03 356.62h0.72v8.03h-0.72zM466.26 356.62h0.72v8.03h-0.72zM472.01 356.62h0.72v8.03h-0.72zM341.84 364.65h0.72v8.03h-0.72zM377.08 364.65h0.72v8.03h-0.72zM386.43 364.65h0.72v8.03h-0.72zM391.46 364.65h0.72v8.03h-0.72zM397.94 364.65h0.72v8.03h-0.72zM400.81 364.65h0.72v8.03h-0.72zM418.79 364.65h0.72v8.03h-0.72zM421.67 364.65h0.72v8.03h-0.72zM423.82 364.65h0.72v8.03h-0.72zM478.48 364.65h0.72v8.03h-0.72zM350.47 372.68h0.72v8.03h-0.72zM352.63 372.68h0.72v8.03h-0.72zM370.61 372.68h0.72v8.03h-0.72zM382.83 372.68h0.72v8.03h-0.72zM471.29 372.68h0.72v8.03h-0.72zM477.76 404.8h0.72v8.03h-0.72zM365.57 420.86h0.72v8.03h-0.72zM374.92 420.86h0.72v8.03h-0.72zM382.83 420.86h0.72v8.03h-0.72zM467.69 420.86h0.72v8.03h-0.72zM469.13 420.86h0.72v8.03h-0.72z"/>
<path fill="#7490c0" d="M63.68 332.53h0.71v8.03h-0.71zM78.58 332.53h0.71v8.03h-0.71zM88.47 332.53h0.71v8.03h-0.71zM60.15 356.62h1.43v8.03h-1.43zM62.3 356.62h0.71v8.03h-0.71zM63.72 356.62h0.71v8.03h-0.71zM65.86 356.62h1.43v8.03h-1.43zM70.86 356.62h0.71v8.03h-0.71zM83.66 356.62h0.71v8.03h-0.71zM85.79 356.62h0.71v8.03h-0.71zM88.63 356.62h0.71v8.03h-0.71zM95.03 356.62h0.71v8.03h-0.71zM69.6 372.68h0.72v8.03h-0.72zM86.97 380.71h0.72v8.03h-0.72zM60.92 396.77h0.72v8.03h-0.72zM82.63 396.77h0.72v8.03h-0.72zM71.05 404.8h0.72v8.03h-0.72zM58.02 412.83h0.72v8.03h-0.72zM62.37 412.83h2.17v8.03h-2.17zM66.71 412.83h0.72v8.03h-0.72zM70.33 412.83h0.72v8.03h-0.72zM72.5 412.83h0.72v8.03h-0.72zM74.67 412.83h0.72v8.03h-0.72zM76.84 412.83h0.72v8.03h-0.72zM79.01 412.83h0.72v8.03h-0.72zM86.25 412.83h0.72v8.03h-0.72zM90.59 412.83h0.72v8.03h-0.72zM99.28 412.83h0.72v8.03h-0.72zM63.67 428.89h0.71v8.03h-0.71zM66.5 428.89h0.71v8.03h-0.71zM90.71 428.89h0.71v8.03h-0.71zM106.9 324.5h0.73v8.03h-0.73zM125.64 324.5h0.73v8.03h-0.73zM115.51 332.53h0.72v8.03h-0.72zM117.67 332.53h0.72v8.03h-0.72zM137.01 332.53h0.71v8.03h-0.71zM144.16 332.53h0.71v8.03h-0.71zM145.59 332.53h0.71v8.03h-0.71zM139.8 340.56h0.72v8.03h-0.72zM146.98 340.56h0.72v8.03h-0.72zM154.15 348.59h0.72v8.03h-0.72zM132.63 356.62h0.72v8.03h-0.72zM135.5 356.62h0.72v8.03h-0.72zM141.24 356.62h0.72v8.03h-0.72zM159.17 356.62h0.72v8.03h-0.72zM129.05 364.65h0.72v8.03h-0.72zM134.79 380.71h0.72v8.03h-0.72zM152.02 388.74h0.71v8.03h-0.71zM154.17 388.74h1.43v8.03h-1.43zM157.03 388.74h0.71v8.03h-0.71zM158.46 388.74h0.71v8.03h-0.71zM132.63 396.77h0.72v8.03h-0.72zM142.67 396.77h0.72v8.03h-0.72zM154.15 404.8h0.72v8.03h-0.72zM149.13 420.86h0.72v8.03h-0.72zM154.86 420.86h1.43v8.03h-1.43zM110.54 428.89h0.73v8.03h-0.73zM167.25 324.5h1.42v8.03h-1.42zM171.43 332.53h1.43v8.03h-1.43zM174.29 332.53h0.71v8.03h-0.71zM184.23 332.53h0.71v8.03h-0.71zM186.36 332.53h0.71v8.03h-0.71zM189.2 332.53h0.71v8.03h-0.71zM191.32 332.53h0.71v8.03h-0.71zM220.13 332.53h0.72v8.03h-0.72zM222.3 332.53h1.45v8.03h-1.45zM224.47 332.53h0.72v8.03h-0.72zM230.25 332.53h0.72v8.03h-0.72zM232.94 340.56h0.72v8.03h-0.72zM254.56 340.56h0.72v8.03h-0.72zM215.55 348.59h0.72v8.03h-0.72zM247.93 348.59h0.72v8.03h-0.72zM183.87 356.62h0.72v8.03h-0.72zM199.69 356.62h1.44v8.03h-1.44zM206.88 356.62h0.72v8.03h-0.72zM214.07 356.62h0.72v8.03h-0.72zM219.1 356.62h0.72v8.03h-0.72zM220.54 356.62h0.72v8.03h-0.72zM228.45 356.62h0.72v8.03h-0.72zM239.96 356.62h0.72v8.03h-0.72zM244.27 356.62h0.72v8.03h-0.72zM254.34 356.62h0.72v8.03h-0.72zM259.37 356.62h0.72v8.03h-0.72zM163.74 372.68h0.72v8.03h-0.72zM171.68 372.68h0.72v8.03h-0.72zM253.93 372.68h0.72v8.03h-0.72zM264.75 372.68h0.72v8.03h-0.72zM166.63 380.71h0.72v8.03h-0.72zM191.88 380.71h0.72v8.03h-0.72zM230.84 380.71h0.72v8.03h-0.72zM170.24 388.74h0.72v8.03h-0.72zM175.07 396.77h1.42v8.03h-1.42zM190.03 396.77h0.72v8.03h-0.72zM202.26 396.77h0.72v8.03h-0.72zM217.36 396.77h0.72v8.03h-0.72zM221.68 396.77h0.72v8.03h-0.72zM229.59 396.77h0.72v8.03h-0.72zM241.1 396.77h0.72v8.03h-0.72zM286.4 396.77h0.72v8.03h-0.72zM163.74 404.8h0.72v8.03h-0.72zM168.78 404.8h0.72v8.03h-0.72zM186.05 404.8h0.72v8.03h-0.72zM226.34 404.8h0.72v8.03h-0.72zM242.89 404.8h0.72v8.03h-0.72zM245.77 404.8h0.72v8.03h-0.72zM247.93 404.8h0.72v8.03h-0.72zM265.74 404.8h0.72v8.03h-0.72zM275.08 404.8h0.72v8.03h-0.72zM279.38 404.8h0.72v8.03h-0.72zM280.82 404.8h0.72v8.03h-0.72zM165.89 420.86h0.72v8.03h-0.72zM167.33 420.86h0.72v8.03h-0.72zM209.03 420.86h0.72v8.03h-0.72zM210.46 420.86h0.72v8.03h-0.72zM224.84 420.86h0.72v8.03h-0.72zM244.25 420.86h0.72v8.03h-0.72zM245.69 420.86h0.72v8.03h-0.72zM305.1 324.5h0.72v8.03h-0.72zM304.33 332.53h0.71v8.03h-0.71zM312.17 332.53h0.71v8.03h-0.71zM382.08 332.53h0.71v8.03h-0.71zM383.5 332.53h0.71v8.03h-0.71zM397.71 332.53h1.43v8.03h-1.43zM402.71 332.53h0.71v8.03h-0.71zM353.39 340.56h0.72v8.03h-0.72zM355.55 340.56h0.72v8.03h-0.72zM360.59 340.56h0.72v8.03h-0.72zM362.03 340.56h2.16v8.03h-2.16zM364.91 340.56h0.72v8.03h-0.72zM366.34 340.56h0.72v8.03h-0.72zM369.22 340.56h0.72v8.03h-0.72zM372.1 340.56h1.44v8.03h-1.44zM436.07 340.56h0.72v8.03h-0.72zM439.67 340.56h3.59v8.03h-3.59zM446.14 340.56h0.72v8.03h-0.72zM448.29 340.56h0.72v8.03h-0.72zM450.45 340.56h2.16v8.03h-2.16zM456.2 340.56h0.72v8.03h-0.72zM457.64 340.56h0.72v8.03h-0.72zM459.07 340.56h2.16v8.03h-2.16zM462.67 340.56h1.44v8.03h-1.44zM466.26 340.56h0.72v8.03h-0.72zM469.86 340.56h0.72v8.03h-0.72zM374.85 348.59h0.72v8.03h-0.72zM387.07 348.59h0.72v8.03h-0.72zM426.64 348.59h0.72v8.03h-0.72zM430.96 348.59h0.72v8.03h-0.72zM452.56 348.59h0.72v8.03h-0.72zM454 348.59h0.72v8.03h-0.72zM464.08 348.59h0.72v8.03h-0.72zM477.76 348.59h0.72v8.03h-0.72zM294.38 356.62h0.72v8.03h-0.72zM299.41 356.62h0.72v8.03h-0.72zM304.44 356.62h0.72v8.03h-0.72zM308.76 356.62h0.72v8.03h-0.72zM345.44 356.62h0.72v8.03h-0.72zM371.33 356.62h0.72v8.03h-0.72zM400.81 356.62h0.72v8.03h-0.72zM402.25 356.62h0.72v8.03h-0.72zM405.85 356.62h0.72v8.03h-0.72zM410.88 356.62h0.72v8.03h-0.72zM436.77 356.62h0.72v8.03h-0.72zM452.59 356.62h0.72v8.03h-0.72zM459.06 356.62h0.72v8.03h-0.72zM467.69 356.62h0.72v8.03h-0.72zM295.1 364.65h0.72v8.03h-0.72zM297.25 364.65h0.72v8.03h-0.72zM326.74 364.65h0.72v8.03h-0.72zM342.56 364.65h0.72v8.03h-0.72zM368.45 364.65h0.72v8.03h-0.72zM379.96 364.65h0.72v8.03h-0.72zM405.13 364.65h0.72v8.03h-0.72zM292.22 372.68h0.72v8.03h-0.72zM368.45 372.68h0.72v8.03h-0.72zM401.53 372.68h0.72v8.03h-0.72zM414.48 372.68h0.72v8.03h-0.72zM421.67 372.68h0.72v8.03h-0.72zM303.73 380.71h0.72v8.03h-0.72zM321.7 380.71h0.72v8.03h-0.72zM478.48 388.74h0.72v8.03h-0.72zM387.87 396.77h0.72v8.03h-0.72zM294.38 420.86h0.72v8.03h-0.72zM347.59 420.86h0.72v8.03h-0.72zM446.84 420.86h0.72v8.03h-0.72zM475.6 420.86h0.72v8.03h-0.72z"/>
<path fill="#5072ab" d="M67.23 332.53h0.71v8.03h-0.71zM80 332.53h0.71v8.03h-0.71zM81.41 332.53h1.41v8.03h-1.41zM76.55 356.62h0.71v8.03h-0.71zM93.61 356.62h0.71v8.03h-0.71zM61.64 380.71h0.72v8.03h-0.72zM65.26 380.71h0.72v8.03h-0.72zM68.16 380.71h0.72v8.03h-0.72zM93.49 380.71h0.72v8.03h-0.72zM60.92 388.74h0.72v8.03h-0.72zM83.35 388.74h0.72v8.03h-0.72zM94.21 396.77h0.72v8.03h-0.72zM60.19 412.83h0.72v8.03h-0.72zM79.74 412.83h1.45v8.03h-1.45zM84.8 412.83h0.72v8.03h-0.72zM89.87 412.83h0.72v8.03h-0.72zM92.76 412.83h0.72v8.03h-0.72zM124.91 324.5h0.73v8.03h-0.73zM106.13 332.53h0.72v8.03h-0.72zM107.57 332.53h0.72v8.03h-0.72zM111.9 332.53h0.72v8.03h-0.72zM126.29 332.53h0.71v8.03h-0.71zM127.72 332.53h0.71v8.03h-0.71zM129.86 332.53h0.71v8.03h-0.71zM131.29 332.53h0.71v8.03h-0.71zM134.15 332.53h1.43v8.03h-1.43zM111.12 340.56h0.72v8.03h-0.72zM122.6 340.56h0.72v8.03h-0.72zM125.46 340.56h0.72v8.03h-0.72zM128.33 340.56h0.72v8.03h-0.72zM129.77 340.56h0.72v8.03h-0.72zM152.71 340.56h0.72v8.03h-0.72zM102.52 356.62h0.72v8.03h-0.72zM104.67 356.62h0.72v8.03h-0.72zM155.58 364.65h0.72v8.03h-0.72zM120.44 372.68h0.72v8.03h-0.72zM136.22 372.68h0.72v8.03h-0.72zM143.39 372.68h0.72v8.03h-0.72zM104.67 380.71h0.72v8.03h-0.72zM120.44 380.71h0.72v8.03h-0.72zM146.26 380.71h0.72v8.03h-0.72zM149.13 380.71h0.72v8.03h-0.72zM117.67 388.74h1.44v8.03h-1.44zM120.56 388.74h0.72v8.03h-0.72zM140.59 388.74h0.71v8.03h-0.71zM142.01 388.74h0.71v8.03h-0.71zM144.16 388.74h0.71v8.03h-0.71zM146.3 388.74h1.43v8.03h-1.43zM101.8 396.77h0.72v8.03h-0.72zM107.54 396.77h0.72v8.03h-0.72zM145.54 396.77h1.43v8.03h-1.43zM157.01 396.77h0.72v8.03h-0.72zM144.11 420.86h1.43v8.03h-1.43zM165.13 324.5h1.42v8.03h-1.42zM187.07 324.5h0.71v8.03h-0.71zM164.52 332.53h0.74v8.03h-0.74zM202.78 332.53h0.72v8.03h-0.72zM206.4 332.53h0.72v8.03h-0.72zM210.01 332.53h1.45v8.03h-1.45zM213.63 332.53h0.72v8.03h-0.72zM215.07 332.53h1.45v8.03h-1.45zM217.96 332.53h0.72v8.03h-0.72zM219.41 332.53h0.72v8.03h-0.72zM181.76 340.56h0.72v8.03h-0.72zM211.31 340.56h0.72v8.03h-0.72zM214.2 340.56h0.72v8.03h-0.72zM223.57 340.56h0.72v8.03h-0.72zM226.45 340.56h1.44v8.03h-1.44zM235.82 340.56h0.72v8.03h-0.72zM253.12 340.56h0.72v8.03h-0.72zM162.3 348.59h0.72v8.03h-0.72zM173.81 348.59h0.72v8.03h-0.72zM196.12 348.59h0.72v8.03h-0.72zM171.65 356.62h0.72v8.03h-0.72zM178.84 356.62h0.72v8.03h-0.72zM194.66 356.62h0.72v8.03h-0.72zM196.1 356.62h0.72v8.03h-0.72zM203.29 356.62h0.72v8.03h-0.72zM206.16 356.62h0.72v8.03h-0.72zM211.91 356.62h1.44v8.03h-1.44zM224.14 356.62h0.72v8.03h-0.72zM231.33 356.62h0.72v8.03h-0.72zM244.99 356.62h0.72v8.03h-0.72zM247.87 356.62h0.72v8.03h-0.72zM252.9 356.62h0.72v8.03h-0.72zM265.84 356.62h0.72v8.03h-0.72zM274.87 356.62h0.73v8.03h-0.73zM277.8 356.62h0.73v8.03h-0.73zM232.34 364.65h0.72v8.03h-0.72zM252.56 364.65h0.72v8.03h-0.72zM256.89 364.65h0.72v8.03h-0.72zM205.59 372.68h0.72v8.03h-0.72zM225.79 372.68h0.72v8.03h-0.72zM229.4 372.68h0.72v8.03h-0.72zM277.74 372.68h0.72v8.03h-0.72zM283.51 372.68h0.72v8.03h-0.72zM262.58 380.71h0.72v8.03h-0.72zM190.75 396.77h0.72v8.03h-0.72zM199.38 396.77h0.72v8.03h-0.72zM202.98 396.77h0.72v8.03h-0.72zM210.17 396.77h0.72v8.03h-0.72zM247.57 396.77h0.72v8.03h-0.72zM252.6 396.77h0.72v8.03h-0.72zM254.04 396.77h0.72v8.03h-0.72zM258.36 396.77h0.72v8.03h-0.72zM263.39 396.77h0.72v8.03h-0.72zM284.25 396.77h0.72v8.03h-0.72zM169.5 404.8h0.72v8.03h-0.72zM173.09 404.8h0.72v8.03h-0.72zM184.61 404.8h0.72v8.03h-0.72zM195.4 404.8h0.72v8.03h-0.72zM214.83 404.8h0.72v8.03h-0.72zM224.9 404.8h0.72v8.03h-0.72zM227.78 404.8h0.72v8.03h-0.72zM241.45 404.8h1.44v8.03h-1.44zM262.15 404.8h0.72v8.03h-0.72zM268.62 404.8h0.72v8.03h-0.72zM272.92 404.8h0.72v8.03h-0.72zM274.36 404.8h0.72v8.03h-0.72zM284.41 404.8h0.72v8.03h-0.72zM197.52 420.86h0.72v8.03h-0.72zM201.12 420.86h0.72v8.03h-0.72zM212.62 420.86h0.72v8.03h-0.72zM230.59 420.86h0.72v8.03h-0.72zM240.65 420.86h0.72v8.03h-0.72zM297.94 324.5h0.72v8.03h-0.72zM299.38 324.5h0.72v8.03h-0.72zM300.81 324.5h0.72v8.03h-0.72zM302.95 324.5h0.72v8.03h-0.72zM379.3 324.5h0.72v8.03h-0.72zM380.75 324.5h2.16v8.03h-2.16zM301.48 332.53h0.71v8.03h-0.71zM312.88 332.53h1.43v8.03h-1.43zM377.83 332.53h0.71v8.03h-0.71zM392 332.53h0.71v8.03h-0.71zM395.57 332.53h0.71v8.03h-0.71zM311.65 340.56h2.16v8.03h-2.16zM315.25 340.56h0.72v8.03h-0.72zM320.29 340.56h0.72v8.03h-0.72zM322.45 340.56h1.44v8.03h-1.44zM326.04 340.56h0.72v8.03h-0.72zM328.2 340.56h0.72v8.03h-0.72zM331.8 340.56h0.72v8.03h-0.72zM334.68 340.56h2.16v8.03h-2.16zM339.72 340.56h0.72v8.03h-0.72zM342.6 340.56h3.6v8.03h-3.6zM350.51 340.56h0.72v8.03h-0.72zM352.67 340.56h0.72v8.03h-0.72zM354.11 340.56h0.72v8.03h-0.72zM391.51 340.56h0.72v8.03h-0.72zM395.11 340.56h0.72v8.03h-0.72zM400.14 340.56h1.44v8.03h-1.44zM402.29 340.56h1.44v8.03h-1.44zM404.45 340.56h1.44v8.03h-1.44zM408.04 340.56h0.72v8.03h-0.72zM409.48 340.56h0.72v8.03h-0.72zM413.07 340.56h1.44v8.03h-1.44zM415.23 340.56h0.72v8.03h-0.72zM418.11 340.56h1.44v8.03h-1.44zM420.98 340.56h0.72v8.03h-0.72zM423.86 340.56h0.72v8.03h-0.72zM433.2 340.56h0.72v8.03h-0.72zM434.64 340.56h1.44v8.03h-1.44zM295.09 348.59h0.72v8.03h-0.72zM343.95 348.59h0.72v8.03h-0.72zM373.41 348.59h0.72v8.03h-0.72zM431.68 348.59h0.72v8.03h-0.72zM447.52 348.59h0.72v8.03h-0.72zM473.44 348.59h0.72v8.03h-0.72zM305.16 356.62h0.72v8.03h-0.72zM322.42 356.62h1.44v8.03h-1.44zM324.58 356.62h0.72v8.03h-0.72zM327.46 356.62h0.72v8.03h-0.72zM333.93 356.62h0.72v8.03h-0.72zM344 356.62h0.72v8.03h-0.72zM353.35 356.62h0.72v8.03h-0.72zM376.36 356.62h0.72v8.03h-0.72zM386.43 356.62h0.72v8.03h-0.72zM393.62 356.62h0.72v8.03h-0.72zM395.78 356.62h0.72v8.03h-0.72zM397.22 356.62h0.72v8.03h-0.72zM420.95 356.62h0.72v8.03h-0.72zM425.26 356.62h0.72v8.03h-0.72zM428.14 356.62h0.72v8.03h-0.72zM439.65 356.62h0.72v8.03h-0.72zM448.28 356.62h0.72v8.03h-0.72zM450.43 356.62h0.72v8.03h-0.72zM461.94 356.62h0.72v8.03h-0.72zM466.97 356.62h0.72v8.03h-0.72zM311.64 364.65h0.72v8.03h-0.72zM315.23 364.65h0.72v8.03h-0.72zM389.31 364.65h0.72v8.03h-0.72zM399.37 364.65h0.72v8.03h-0.72zM413.76 364.65h0.72v8.03h-0.72zM423.11 364.65h0.72v8.03h-0.72zM433.89 364.65h0.72v8.03h-0.72zM435.33 364.65h0.72v8.03h-0.72zM440.37 364.65h0.72v8.03h-0.72zM452.59 364.65h0.72v8.03h-0.72zM454.75 364.65h0.72v8.03h-0.72zM464.82 364.65h0.72v8.03h-0.72zM353.35 372.68h0.72v8.03h-0.72zM389.31 372.68h0.72v8.03h-0.72zM403.69 372.68h1.44v8.03h-1.44zM435.33 372.68h0.72v8.03h-0.72zM446.84 372.68h0.72v8.03h-0.72zM461.94 372.68h0.72v8.03h-0.72zM476.32 372.68h0.72v8.03h-0.72zM308.04 380.71h0.72v8.03h-0.72zM356.22 380.71h0.72v8.03h-0.72zM434.61 380.71h0.72v8.03h-0.72zM447.56 388.74h0.72v8.03h-0.72zM399.37 396.77h0.72v8.03h-0.72zM447.56 396.77h0.72v8.03h-0.72zM350.47 420.86h0.72v8.03h-0.72zM394.34 420.86h0.72v8.03h-0.72zM407.28 420.86h0.72v8.03h-0.72zM429.58 420.86h0.72v8.03h-0.72zM437.49 420.86h0.72v8.03h-0.72zM443.96 420.86h0.72v8.03h-0.72z"/>
<path fill="#395f9e" d="M82.63 348.59h0.72v8.03h-0.72zM90.76 356.62h0.71v8.03h-0.71zM85.53 380.71h0.72v8.03h-0.72zM90.59 380.71h0.72v8.03h-0.72zM67.43 412.83h0.72v8.03h-0.72zM68.88 412.83h0.72v8.03h-0.72zM87.7 412.83h0.72v8.03h-0.72zM94.93 412.83h0.72v8.03h-0.72zM97.83 412.83h1.45v8.03h-1.45zM103.99 324.5h0.73v8.03h-0.73zM105.44 324.5h0.73v8.03h-0.73zM123.45 324.5h1.45v8.03h-1.45zM101.8 332.53h0.72v8.03h-0.72zM104.69 332.53h1.44v8.03h-1.44zM106.85 332.53h0.72v8.03h-0.72zM123.43 332.53h0.71v8.03h-0.71zM101.8 340.56h0.72v8.03h-0.72zM130.48 340.56h0.72v8.03h-0.72zM131.92 340.56h0.72v8.03h-0.72zM143.39 340.56h0.72v8.03h-0.72zM154.15 340.56h0.72v8.03h-0.72zM157.73 340.56h0.72v8.03h-0.72zM133.35 356.62h0.72v8.03h-0.72zM134.79 356.62h0.72v8.03h-0.72zM113.99 372.68h0.72v8.03h-0.72zM115.42 372.68h0.72v8.03h-0.72zM130.48 372.68h0.72v8.03h-0.72zM107.57 388.74h0.72v8.03h-0.72zM109.01 388.74h0.72v8.03h-0.72zM110.46 388.74h0.72v8.03h-0.72zM112.62 388.74h1.44v8.03h-1.44zM129.15 388.74h1.43v8.03h-1.43zM136.3 388.74h0.71v8.03h-0.71zM137.73 388.74h1.43v8.03h-1.43zM139.87 388.74h0.71v8.03h-0.71zM148.41 396.77h0.72v8.03h-0.72zM151.28 396.77h0.72v8.03h-0.72zM158.45 396.77h0.72v8.03h-0.72zM102.52 420.86h0.72v8.03h-0.72zM114.71 420.86h0.72v8.03h-0.72zM126.18 420.86h0.72v8.03h-0.72zM163.01 324.5h0.71v8.03h-0.71zM164.42 324.5h0.71v8.03h-0.71zM163.04 332.53h0.74v8.03h-0.74zM199.17 332.53h1.45v8.03h-1.45zM203.51 332.53h0.72v8.03h-0.72zM207.84 332.53h0.72v8.03h-0.72zM217.8 340.56h0.72v8.03h-0.72zM257.33 340.56h1.33v8.03h-1.33zM262.91 348.59h0.73v8.03h-0.73zM265.09 348.59h0.73v8.03h-0.73zM166.61 356.62h0.72v8.03h-0.72zM175.96 356.62h0.72v8.03h-0.72zM189.62 356.62h0.72v8.03h-0.72zM210.48 356.62h0.72v8.03h-0.72zM225.58 356.62h0.72v8.03h-0.72zM251.46 356.62h0.72v8.03h-0.72zM257.93 356.62h0.72v8.03h-0.72zM263.69 356.62h0.72v8.03h-0.72zM270.47 356.62h0.73v8.03h-0.73zM274.13 356.62h0.73v8.03h-0.73zM279.27 356.62h0.73v8.03h-0.73zM211.4 364.65h0.72v8.03h-0.72zM235.89 372.68h0.72v8.03h-0.72zM224.35 380.71h0.72v8.03h-0.72zM244.55 380.71h0.72v8.03h-0.72zM196.51 396.77h0.72v8.03h-0.72zM200.82 396.77h0.72v8.03h-0.72zM203.7 396.77h1.44v8.03h-1.44zM238.94 396.77h0.72v8.03h-0.72zM245.41 396.77h0.72v8.03h-0.72zM277.05 396.77h0.72v8.03h-0.72zM279.21 396.77h0.72v8.03h-0.72zM280.65 396.77h0.72v8.03h-0.72zM283.53 396.77h0.72v8.03h-0.72zM284.97 396.77h0.72v8.03h-0.72zM288.56 396.77h0.72v8.03h-0.72zM164.46 404.8h0.72v8.03h-0.72zM183.89 404.8h0.72v8.03h-0.72zM237.13 404.8h0.72v8.03h-0.72zM240.73 404.8h0.72v8.03h-0.72zM260.72 404.8h0.72v8.03h-0.72zM271.49 404.8h0.72v8.03h-0.72zM277.23 404.8h0.72v8.03h-0.72zM285.13 404.8h0.72v8.03h-0.72zM286.56 404.8h1.44v8.03h-1.44zM163.74 420.86h0.72v8.03h-0.72zM165.18 420.86h0.72v8.03h-0.72zM172.36 420.86h0.72v8.03h-0.72zM181.71 420.86h0.72v8.03h-0.72zM207.59 420.86h0.72v8.03h-0.72zM294.36 324.5h0.72v8.03h-0.72zM377.86 324.5h0.72v8.03h-0.72zM326 332.53h1.4v8.03h-1.4zM328.1 332.53h0.7v8.03h-0.7zM292.22 340.56h0.72v8.03h-0.72zM295.1 340.56h0.72v8.03h-0.72zM299.42 340.56h1.44v8.03h-1.44zM303.01 340.56h1.44v8.03h-1.44zM310.93 340.56h0.72v8.03h-0.72zM314.53 340.56h0.72v8.03h-0.72zM321.01 340.56h0.72v8.03h-0.72zM323.88 340.56h0.72v8.03h-0.72zM380.01 340.56h0.72v8.03h-0.72zM381.45 340.56h0.72v8.03h-0.72zM386.48 340.56h0.72v8.03h-0.72zM388.64 340.56h1.44v8.03h-1.44zM392.23 340.56h0.72v8.03h-0.72zM397.26 340.56h1.44v8.03h-1.44zM399.42 340.56h0.72v8.03h-0.72zM401.57 340.56h0.72v8.03h-0.72zM405.89 340.56h0.72v8.03h-0.72zM408.76 340.56h0.72v8.03h-0.72zM411.64 340.56h0.72v8.03h-0.72zM427.36 348.59h0.72v8.03h-0.72zM470.56 348.59h0.72v8.03h-0.72zM309.48 356.62h0.72v8.03h-0.72zM314.51 356.62h1.44v8.03h-1.44zM329.62 356.62h1.44v8.03h-1.44zM336.81 356.62h1.44v8.03h-1.44zM339.68 356.62h0.72v8.03h-0.72zM349.03 356.62h0.72v8.03h-0.72zM355.5 356.62h0.72v8.03h-0.72zM370.61 356.62h0.72v8.03h-0.72zM375.64 356.62h0.72v8.03h-0.72zM377.8 356.62h0.72v8.03h-0.72zM388.59 356.62h0.72v8.03h-0.72zM392.18 356.62h0.72v8.03h-0.72zM398.65 356.62h0.72v8.03h-0.72zM413.04 356.62h0.72v8.03h-0.72zM430.3 356.62h0.72v8.03h-0.72zM441.08 356.62h0.72v8.03h-0.72zM459.78 356.62h0.72v8.03h-0.72zM469.13 356.62h0.72v8.03h-0.72zM476.32 356.62h0.72v8.03h-0.72zM307.32 364.65h0.72v8.03h-0.72zM329.62 364.65h0.72v8.03h-0.72zM362.7 364.65h0.72v8.03h-0.72zM366.29 364.65h0.72v8.03h-0.72zM318.83 372.68h0.72v8.03h-0.72zM331.05 372.68h0.72v8.03h-0.72zM461.22 372.68h0.72v8.03h-0.72zM304.44 380.71h0.72v8.03h-0.72zM454.75 380.71h0.72v8.03h-0.72zM300.13 420.86h0.72v8.03h-0.72zM400.09 420.86h0.72v8.03h-0.72zM456.91 420.86h0.72v8.03h-0.72z"/>
<path fill="#133470" d="M101.8 324.5h0.73v8.03h-0.73z"/>
<defs><linearGradient id="vg" x1="0" y1="1" x2="0" y2="0"><stop offset="0" stop-color="#e4eef8"/><stop offset="0.5" stop-color="#4f7fbf"/><stop offset="1" stop-color="#0a2c66"/></linearGradient></defs>
<rect x="493" y="361" width="4.7" height="21.2" fill="url(#vg)"/>
<text transform="translate(490.6 373.2) rotate(-90)" text-anchor="middle" textLength="41.5" lengthAdjust="spacingAndGlyphs">Maximum VAF</text>
<text x="500" y="363.6" style="font-size:6.3px">1</text>
<text x="500" y="375.2" style="font-size:6.3px">0.5</text>
<text x="500" y="385.8" style="font-size:6.3px">0</text>
<text x="6.9" y="462.3" style="font-size:10.8px;font-weight:bold;fill:#111;stroke:#111">D</text>
<line x1="46.3" y1="474.5" x2="46.3" y2="487.5" stroke="#888" stroke-width="0.9"/>
<line x1="53.7" y1="474.4" x2="123.8" y2="474.4" stroke="#444" stroke-width="0.85"/>
<rect x="55.9" y="468.2" width="28.5" height="12.5" fill="#154b8a" stroke="#0d3a70" stroke-width="0.5"/>
<line x1="62.4" y1="468.2" x2="62.4" y2="480.7" stroke="#111" stroke-width="0.9"/>
<line x1="55.5" y1="488.4" x2="149.5" y2="488.4" stroke="#444" stroke-width="0.85"/>
<rect x="57.5" y="482.6" width="38.2" height="11.6" fill="#3aa935" stroke="#2a8a2a" stroke-width="0.5"/>
<line x1="73.3" y1="482.6" x2="73.3" y2="494.2" stroke="#111" stroke-width="0.9"/>
<path fill="#143f7a" d="M101.66 559.93a1.7 1.7 0 1 0 .01 0zM83.18 504.31a1.7 1.7 0 1 0 .01 0zM53.07 537.61a1.7 1.7 0 1 0 .01 0zM53.07 523.63a1.7 1.7 0 1 0 .01 0zM55.45 527.64a1.7 1.7 0 1 0 .01 0zM59.36 595.94a1.7 1.7 0 1 0 .01 0zM52.38 508.62a1.7 1.7 0 1 0 .01 0zM57.49 615.37a1.7 1.7 0 1 0 .01 0zM64.87 525.79a1.7 1.7 0 1 0 .01 0zM63.16 534.45a1.7 1.7 0 1 0 .01 0zM82.32 564.39a1.7 1.7 0 1 0 .01 0zM88.73 554.35a1.7 1.7 0 1 0 .01 0zM61.82 584.83a1.7 1.7 0 1 0 .01 0zM79.43 579.62a1.7 1.7 0 1 0 .01 0zM96.45 582.54a1.7 1.7 0 1 0 .01 0zM59.18 607.65a1.7 1.7 0 1 0 .01 0zM50.77 616.06a1.7 1.7 0 1 0 .01 0zM66.58 522.94a1.7 1.7 0 1 0 .01 0zM52.99 566.84a1.7 1.7 0 1 0 .01 0zM54.26 544.64a1.7 1.7 0 1 0 .01 0zM58.98 580.49a1.7 1.7 0 1 0 .01 0zM53.15 616.01a1.7 1.7 0 1 0 .01 0zM56.1 581.61a1.7 1.7 0 1 0 .01 0zM59.06 596.83a1.7 1.7 0 1 0 .01 0zM51.4 569.07a1.7 1.7 0 1 0 .01 0zM50.55 558.95a1.7 1.7 0 1 0 .01 0zM96.8 566.54a1.7 1.7 0 1 0 .01 0zM96.87 573.71a1.7 1.7 0 1 0 .01 0zM56.5 584.12a1.7 1.7 0 1 0 .01 0zM57.37 593.34a1.7 1.7 0 1 0 .01 0zM71.04 587.76a1.7 1.7 0 1 0 .01 0zM70.37 577.92a1.7 1.7 0 1 0 .01 0zM119.77 569.54a1.7 1.7 0 1 0 .01 0zM70.76 598a1.7 1.7 0 1 0 .01 0zM74.72 504.45a1.7 1.7 0 1 0 .01 0zM83.14 561.52a1.7 1.7 0 1 0 .01 0zM88.45 521.72a1.7 1.7 0 1 0 .01 0zM59.6 577.7a1.7 1.7 0 1 0 .01 0zM57.63 561.91a1.7 1.7 0 1 0 .01 0zM57.4 570.87a1.7 1.7 0 1 0 .01 0zM57.78 609.79a1.7 1.7 0 1 0 .01 0zM60.17 517.02a1.7 1.7 0 1 0 .01 0zM67.5 587.16a1.7 1.7 0 1 0 .01 0zM96.45 551.92a1.7 1.7 0 1 0 .01 0zM92.79 547.67a1.7 1.7 0 1 0 .01 0zM51.48 516.52a1.7 1.7 0 1 0 .01 0zM55.21 527.97a1.7 1.7 0 1 0 .01 0zM102.16 564.21a1.7 1.7 0 1 0 .01 0zM76.39 560.68a1.7 1.7 0 1 0 .01 0zM92.23 510.13a1.7 1.7 0 1 0 .01 0zM59.93 608.1a1.7 1.7 0 1 0 .01 0zM53.08 514a1.7 1.7 0 1 0 .01 0zM55.01 611.88a1.7 1.7 0 1 0 .01 0zM59.32 601.26a1.7 1.7 0 1 0 .01 0zM76.12 509.64a1.7 1.7 0 1 0 .01 0zM62.31 602.07a1.7 1.7 0 1 0 .01 0zM61.8 524.11a1.7 1.7 0 1 0 .01 0zM66.85 593.51a1.7 1.7 0 1 0 .01 0zM52.21 574.65a1.7 1.7 0 1 0 .01 0zM55.33 529.14a1.7 1.7 0 1 0 .01 0zM65.85 601.89a1.7 1.7 0 1 0 .01 0zM52.61 588.84a1.7 1.7 0 1 0 .01 0zM101.53 618.26a1.7 1.7 0 1 0 .01 0zM52.49 595.72a1.7 1.7 0 1 0 .01 0zM55.07 587.09a1.7 1.7 0 1 0 .01 0zM57.2 558.09a1.7 1.7 0 1 0 .01 0zM107.94 566.38a1.7 1.7 0 1 0 .01 0zM52.63 578.28a1.7 1.7 0 1 0 .01 0zM53.03 596.53a1.7 1.7 0 1 0 .01 0zM57.73 515.43a1.7 1.7 0 1 0 .01 0zM50.91 579.84a1.7 1.7 0 1 0 .01 0zM76.49 561.95a1.7 1.7 0 1 0 .01 0zM55.41 507.5a1.7 1.7 0 1 0 .01 0zM50.73 617.13a1.7 1.7 0 1 0 .01 0zM51.81 556.95a1.7 1.7 0 1 0 .01 0zM84.09 520.67a1.7 1.7 0 1 0 .01 0zM61.96 564.55a1.7 1.7 0 1 0 .01 0zM51.95 521.92a1.7 1.7 0 1 0 .01 0zM54.74 607.53a1.7 1.7 0 1 0 .01 0zM90.92 539.01a1.7 1.7 0 1 0 .01 0zM77.89 585.94a1.7 1.7 0 1 0 .01 0zM52.8 556.19a1.7 1.7 0 1 0 .01 0zM72.28 574.6a1.7 1.7 0 1 0 .01 0zM53.09 604.18a1.7 1.7 0 1 0 .01 0zM89.21 565.51a1.7 1.7 0 1 0 .01 0zM80.84 564.22a1.7 1.7 0 1 0 .01 0zM107.94 546.46a1.7 1.7 0 1 0 .01 0zM63.98 534.08a1.7 1.7 0 1 0 .01 0zM55.49 587.99a1.7 1.7 0 1 0 .01 0zM57.19 582.63a1.7 1.7 0 1 0 .01 0zM51.84 590.77a1.7 1.7 0 1 0 .01 0zM57.25 522.75a1.7 1.7 0 1 0 .01 0zM60.56 524.57a1.7 1.7 0 1 0 .01 0zM77.22 599.19a1.7 1.7 0 1 0 .01 0zM70.77 572.9a1.7 1.7 0 1 0 .01 0zM55.41 571.36a1.7 1.7 0 1 0 .01 0zM96.33 521.54a1.7 1.7 0 1 0 .01 0zM56.5 594.05a1.7 1.7 0 1 0 .01 0zM51.31 507.47a1.7 1.7 0 1 0 .01 0zM51.64 600.59a1.7 1.7 0 1 0 .01 0zM52.22 584.85a1.7 1.7 0 1 0 .01 0zM82.68 528.83a1.7 1.7 0 1 0 .01 0zM61.79 573.58a1.7 1.7 0 1 0 .01 0zM51.97 580.51a1.7 1.7 0 1 0 .01 0zM54.12 611.4a1.7 1.7 0 1 0 .01 0zM66.14 553.58a1.7 1.7 0 1 0 .01 0zM57.25 538.35a1.7 1.7 0 1 0 .01 0zM87.54 561.22a1.7 1.7 0 1 0 .01 0zM98.77 531.1a1.7 1.7 0 1 0 .01 0zM85.63 567.16a1.7 1.7 0 1 0 .01 0zM101.46 551.52a1.7 1.7 0 1 0 .01 0zM56.35 583.11a1.7 1.7 0 1 0 .01 0zM98.74 562.28a1.7 1.7 0 1 0 .01 0zM56.47 595.76a1.7 1.7 0 1 0 .01 0zM52.53 503.12a1.7 1.7 0 1 0 .01 0zM71.7 608.42a1.7 1.7 0 1 0 .01 0zM66.77 550.99a1.7 1.7 0 1 0 .01 0zM101.53 506.36a1.7 1.7 0 1 0 .01 0zM54.97 563.14a1.7 1.7 0 1 0 .01 0zM56.02 589.37a1.7 1.7 0 1 0 .01 0zM87.16 545.2a1.7 1.7 0 1 0 .01 0zM54.8 587.9a1.7 1.7 0 1 0 .01 0zM68.37 590.42a1.7 1.7 0 1 0 .01 0zM55.41 575.9a1.7 1.7 0 1 0 .01 0zM88.47 565.19a1.7 1.7 0 1 0 .01 0zM84.85 578.53a1.7 1.7 0 1 0 .01 0zM51.42 568.81a1.7 1.7 0 1 0 .01 0zM55.65 611.89a1.7 1.7 0 1 0 .01 0zM64.03 581.55a1.7 1.7 0 1 0 .01 0zM50.77 572.23a1.7 1.7 0 1 0 .01 0zM90.33 562.64a1.7 1.7 0 1 0 .01 0zM87.16 518.78a1.7 1.7 0 1 0 .01 0zM53.09 560.82a1.7 1.7 0 1 0 .01 0zM55.56 586.59a1.7 1.7 0 1 0 .01 0zM128.06 579.26a1.7 1.7 0 1 0 .01 0zM88.94 587.76a1.7 1.7 0 1 0 .01 0zM69.33 546.68a1.7 1.7 0 1 0 .01 0zM53.44 568.6a1.7 1.7 0 1 0 .01 0zM60.8 602.81a1.7 1.7 0 1 0 .01 0zM63.96 618.26a1.7 1.7 0 1 0 .01 0zM57.73 570.74a1.7 1.7 0 1 0 .01 0zM102.71 572.68a1.7 1.7 0 1 0 .01 0zM53.08 614.19a1.7 1.7 0 1 0 .01 0zM92.48 567.89a1.7 1.7 0 1 0 .01 0zM58.84 614.88a1.7 1.7 0 1 0 .01 0zM78.05 506.81a1.7 1.7 0 1 0 .01 0zM121.42 516.08a1.7 1.7 0 1 0 .01 0zM95.45 511.2a1.7 1.7 0 1 0 .01 0zM150.16 519.73a1.7 1.7 0 1 0 .01 0zM56.97 502.45a1.7 1.7 0 1 0 .01 0zM68.08 588.76a1.7 1.7 0 1 0 .01 0zM88.86 558.22a1.7 1.7 0 1 0 .01 0zM93.2 525.22a1.7 1.7 0 1 0 .01 0zM126.62 551.92a1.7 1.7 0 1 0 .01 0zM73.85 560.43a1.7 1.7 0 1 0 .01 0zM101.53 589.34a1.7 1.7 0 1 0 .01 0zM70.84 577.19a1.7 1.7 0 1 0 .01 0zM55.16 585.09a1.7 1.7 0 1 0 .01 0zM54.73 514.96a1.7 1.7 0 1 0 .01 0zM53.02 524.39a1.7 1.7 0 1 0 .01 0zM91.9 573.29a1.7 1.7 0 1 0 .01 0zM50.66 581.49a1.7 1.7 0 1 0 .01 0zM56.2 584.77a1.7 1.7 0 1 0 .01 0zM55.17 586.03a1.7 1.7 0 1 0 .01 0zM58.76 613.46a1.7 1.7 0 1 0 .01 0zM71.26 580.77a1.7 1.7 0 1 0 .01 0zM50.52 507.45a1.7 1.7 0 1 0 .01 0zM54.44 596.96a1.7 1.7 0 1 0 .01 0zM93.7 567.51a1.7 1.7 0 1 0 .01 0zM88.27 581.93a1.7 1.7 0 1 0 .01 0zM73.33 563.02a1.7 1.7 0 1 0 .01 0zM53.84 569.61a1.7 1.7 0 1 0 .01 0zM54.67 594.61a1.7 1.7 0 1 0 .01 0z"/>
<path fill="#40a63b" d="M99.6 560.06a1.7 1.7 0 1 0 .01 0zM125.84 562.25a1.7 1.7 0 1 0 .01 0zM97.77 573.74a1.7 1.7 0 1 0 .01 0zM82.03 577.75a1.7 1.7 0 1 0 .01 0zM57.32 503.73a1.7 1.7 0 1 0 .01 0zM113.69 577.8a1.7 1.7 0 1 0 .01 0zM68.19 567.94a1.7 1.7 0 1 0 .01 0zM84.87 570.48a1.7 1.7 0 1 0 .01 0zM55.06 584.94a1.7 1.7 0 1 0 .01 0zM111.48 506.36a1.7 1.7 0 1 0 .01 0zM86.89 563.54a1.7 1.7 0 1 0 .01 0zM101.44 566.51a1.7 1.7 0 1 0 .01 0zM149.05 512.43a1.7 1.7 0 1 0 .01 0zM67.09 560.6a1.7 1.7 0 1 0 .01 0zM131.37 528.23a1.7 1.7 0 1 0 .01 0zM79.1 589.34a1.7 1.7 0 1 0 .01 0zM52.05 540.48a1.7 1.7 0 1 0 .01 0zM94.41 565.5a1.7 1.7 0 1 0 .01 0zM90.51 559.83a1.7 1.7 0 1 0 .01 0zM95.3 558.87a1.7 1.7 0 1 0 .01 0zM134.69 570.75a1.7 1.7 0 1 0 .01 0zM75.33 574.08a1.7 1.7 0 1 0 .01 0zM93.04 569.48a1.7 1.7 0 1 0 .01 0zM56.54 566.16a1.7 1.7 0 1 0 .01 0zM50.64 548.56a1.7 1.7 0 1 0 .01 0zM56.63 573.17a1.7 1.7 0 1 0 .01 0zM112.03 553.26a1.7 1.7 0 1 0 .01 0zM94.66 564.08a1.7 1.7 0 1 0 .01 0zM56.96 549.56a1.7 1.7 0 1 0 .01 0zM135.79 525.8a1.7 1.7 0 1 0 .01 0zM88.59 513.47a1.7 1.7 0 1 0 .01 0zM50.76 528.27a1.7 1.7 0 1 0 .01 0zM55.69 574.14a1.7 1.7 0 1 0 .01 0zM111.48 570.51a1.7 1.7 0 1 0 .01 0zM72.96 567.59a1.7 1.7 0 1 0 .01 0zM95.58 569.79a1.7 1.7 0 1 0 .01 0zM89.41 570.38a1.7 1.7 0 1 0 .01 0zM56.29 576.88a1.7 1.7 0 1 0 .01 0zM100.09 562.01a1.7 1.7 0 1 0 .01 0zM101.67 569.94a1.7 1.7 0 1 0 .01 0zM108.88 564.53a1.7 1.7 0 1 0 .01 0zM89.65 570.12a1.7 1.7 0 1 0 .01 0zM147.94 563.47a1.7 1.7 0 1 0 .01 0zM99.47 567.08a1.7 1.7 0 1 0 .01 0zM99.6 512.72a1.7 1.7 0 1 0 .01 0zM61.34 509.55a1.7 1.7 0 1 0 .01 0zM70.58 550.51a1.7 1.7 0 1 0 .01 0zM54.47 531.79a1.7 1.7 0 1 0 .01 0zM50.8 572.96a1.7 1.7 0 1 0 .01 0zM54.51 569.09a1.7 1.7 0 1 0 .01 0zM54.61 568.3a1.7 1.7 0 1 0 .01 0zM98.19 568.29a1.7 1.7 0 1 0 .01 0zM61.04 586.8a1.7 1.7 0 1 0 .01 0zM77.36 503.93a1.7 1.7 0 1 0 .01 0zM54.36 555.39a1.7 1.7 0 1 0 .01 0zM55.73 559.92a1.7 1.7 0 1 0 .01 0zM50.74 522.66a1.7 1.7 0 1 0 .01 0zM93.85 542.76a1.7 1.7 0 1 0 .01 0zM54.23 575.39a1.7 1.7 0 1 0 .01 0zM50.83 591.52a1.7 1.7 0 1 0 .01 0zM97.68 510.3a1.7 1.7 0 1 0 .01 0zM64.44 566.97a1.7 1.7 0 1 0 .01 0zM93.51 525.31a1.7 1.7 0 1 0 .01 0zM130.71 568.69a1.7 1.7 0 1 0 .01 0zM87.38 525.56a1.7 1.7 0 1 0 .01 0zM79.8 515.61a1.7 1.7 0 1 0 .01 0zM56.93 564.44a1.7 1.7 0 1 0 .01 0zM99.56 547.73a1.7 1.7 0 1 0 .01 0zM91 567.41a1.7 1.7 0 1 0 .01 0zM88.97 568.2a1.7 1.7 0 1 0 .01 0zM117.12 560.41a1.7 1.7 0 1 0 .01 0zM104.85 542.81a1.7 1.7 0 1 0 .01 0zM92.65 572.68a1.7 1.7 0 1 0 .01 0zM77.38 541.27a1.7 1.7 0 1 0 .01 0zM56.22 564.12a1.7 1.7 0 1 0 .01 0zM86.51 540.03a1.7 1.7 0 1 0 .01 0zM54.61 604.94a1.7 1.7 0 1 0 .01 0zM92.55 560.97a1.7 1.7 0 1 0 .01 0zM92.57 550.39a1.7 1.7 0 1 0 .01 0zM59.61 564.8a1.7 1.7 0 1 0 .01 0zM82.8 567.58a1.7 1.7 0 1 0 .01 0zM59.62 541.88a1.7 1.7 0 1 0 .01 0zM131.92 570.15a1.7 1.7 0 1 0 .01 0zM51.99 502.05a1.7 1.7 0 1 0 .01 0zM55.67 562.83a1.7 1.7 0 1 0 .01 0zM55.24 508.33a1.7 1.7 0 1 0 .01 0zM70.22 533.82a1.7 1.7 0 1 0 .01 0zM55.95 501.66a1.7 1.7 0 1 0 .01 0zM109.27 550.1a1.7 1.7 0 1 0 .01 0zM53.24 518.49a1.7 1.7 0 1 0 .01 0zM70.49 515.64a1.7 1.7 0 1 0 .01 0zM65.15 542.37a1.7 1.7 0 1 0 .01 0zM72.75 523.43a1.7 1.7 0 1 0 .01 0zM66.34 583.11a1.7 1.7 0 1 0 .01 0zM62.59 518.37a1.7 1.7 0 1 0 .01 0zM67.15 554.21a1.7 1.7 0 1 0 .01 0zM101.53 510a1.7 1.7 0 1 0 .01 0zM94.36 562.42a1.7 1.7 0 1 0 .01 0zM54.66 575.89a1.7 1.7 0 1 0 .01 0zM53.71 571.19a1.7 1.7 0 1 0 .01 0zM86.79 503.07a1.7 1.7 0 1 0 .01 0zM113.69 568.57a1.7 1.7 0 1 0 .01 0zM87.16 570.45a1.7 1.7 0 1 0 .01 0z"/>
<path fill="#143f7a" d="M96.89 568.8a1.7 1.7 0 1 0 .01 0zM55.51 587.04a1.7 1.7 0 1 0 .01 0zM93.25 594.69a1.7 1.7 0 1 0 .01 0zM53.69 504.48a1.7 1.7 0 1 0 .01 0zM79.26 567.13a1.7 1.7 0 1 0 .01 0zM99.28 566.58a1.7 1.7 0 1 0 .01 0zM56.36 555.1a1.7 1.7 0 1 0 .01 0zM65.4 591.36a1.7 1.7 0 1 0 .01 0zM54.5 571.83a1.7 1.7 0 1 0 .01 0zM68.3 510.27a1.7 1.7 0 1 0 .01 0zM64.56 584.65a1.7 1.7 0 1 0 .01 0zM55.12 619.36a1.7 1.7 0 1 0 .01 0zM60.65 602.71a1.7 1.7 0 1 0 .01 0zM57.09 524.33a1.7 1.7 0 1 0 .01 0zM107.94 570.51a1.7 1.7 0 1 0 .01 0zM62.43 564.37a1.7 1.7 0 1 0 .01 0zM55.26 582.57a1.7 1.7 0 1 0 .01 0zM91.36 568.89a1.7 1.7 0 1 0 .01 0zM58.69 591.6a1.7 1.7 0 1 0 .01 0zM91.8 563.75a1.7 1.7 0 1 0 .01 0zM91.98 522.77a1.7 1.7 0 1 0 .01 0zM51.6 561.74a1.7 1.7 0 1 0 .01 0zM81.12 524.75a1.7 1.7 0 1 0 .01 0zM79.53 567.86a1.7 1.7 0 1 0 .01 0zM55.35 568.62a1.7 1.7 0 1 0 .01 0zM53.35 549.74a1.7 1.7 0 1 0 .01 0zM50.55 543.95a1.7 1.7 0 1 0 .01 0zM83.7 560.77a1.7 1.7 0 1 0 .01 0zM54.33 601.3a1.7 1.7 0 1 0 .01 0zM50.94 610.44a1.7 1.7 0 1 0 .01 0zM96.47 564.04a1.7 1.7 0 1 0 .01 0zM50.87 556.08a1.7 1.7 0 1 0 .01 0zM54.51 543.4a1.7 1.7 0 1 0 .01 0zM101.53 502.72a1.7 1.7 0 1 0 .01 0zM58.01 516.68a1.7 1.7 0 1 0 .01 0zM54.68 616.14a1.7 1.7 0 1 0 .01 0zM55.77 613.42a1.7 1.7 0 1 0 .01 0zM97.27 518.13a1.7 1.7 0 1 0 .01 0zM69.49 594.08a1.7 1.7 0 1 0 .01 0zM90.61 568.31a1.7 1.7 0 1 0 .01 0zM54.26 590.55a1.7 1.7 0 1 0 .01 0zM57.81 587.41a1.7 1.7 0 1 0 .01 0zM134.69 565.89a1.7 1.7 0 1 0 .01 0zM50.83 588.09a1.7 1.7 0 1 0 .01 0zM58.27 551.1a1.7 1.7 0 1 0 .01 0zM74.88 568.35a1.7 1.7 0 1 0 .01 0zM81.64 583.15a1.7 1.7 0 1 0 .01 0zM51.38 598.45a1.7 1.7 0 1 0 .01 0zM89.11 516.92a1.7 1.7 0 1 0 .01 0zM54.59 542.94a1.7 1.7 0 1 0 .01 0zM52.33 591.56a1.7 1.7 0 1 0 .01 0zM58.3 606.24a1.7 1.7 0 1 0 .01 0zM63.61 600.64a1.7 1.7 0 1 0 .01 0zM73.25 589.95a1.7 1.7 0 1 0 .01 0zM56.96 572.35a1.7 1.7 0 1 0 .01 0zM52.22 572.35a1.7 1.7 0 1 0 .01 0zM53.97 507.64a1.7 1.7 0 1 0 .01 0zM77.32 561.89a1.7 1.7 0 1 0 .01 0zM56.08 518.56a1.7 1.7 0 1 0 .01 0zM51.74 516.42a1.7 1.7 0 1 0 .01 0zM55.62 605.43a1.7 1.7 0 1 0 .01 0zM56.76 543.56a1.7 1.7 0 1 0 .01 0zM102.09 598.7a1.7 1.7 0 1 0 .01 0zM58.4 570.18a1.7 1.7 0 1 0 .01 0zM54.12 595.91a1.7 1.7 0 1 0 .01 0zM61.06 580.39a1.7 1.7 0 1 0 .01 0zM115.9 516.08a1.7 1.7 0 1 0 .01 0zM100.58 565.32a1.7 1.7 0 1 0 .01 0zM50.92 514.92a1.7 1.7 0 1 0 .01 0zM54.47 534a1.7 1.7 0 1 0 .01 0zM53.08 575.07a1.7 1.7 0 1 0 .01 0zM100.1 576.83a1.7 1.7 0 1 0 .01 0zM68.08 594.5a1.7 1.7 0 1 0 .01 0zM100.43 576.71a1.7 1.7 0 1 0 .01 0zM92.92 595.18a1.7 1.7 0 1 0 .01 0zM95.01 556.74a1.7 1.7 0 1 0 .01 0zM98.91 564.84a1.7 1.7 0 1 0 .01 0zM64.99 588.54a1.7 1.7 0 1 0 .01 0zM86.45 552.96a1.7 1.7 0 1 0 .01 0zM57.24 503.46a1.7 1.7 0 1 0 .01 0zM54.09 602.29a1.7 1.7 0 1 0 .01 0zM102.09 603.56a1.7 1.7 0 1 0 .01 0zM53.53 601.05a1.7 1.7 0 1 0 .01 0zM59.72 590.04a1.7 1.7 0 1 0 .01 0zM57.41 601.57a1.7 1.7 0 1 0 .01 0zM101.98 589.71a1.7 1.7 0 1 0 .01 0zM50.98 561.75a1.7 1.7 0 1 0 .01 0zM55.81 511.9a1.7 1.7 0 1 0 .01 0zM100.73 546.02a1.7 1.7 0 1 0 .01 0zM66.37 506.6a1.7 1.7 0 1 0 .01 0zM59.93 539.97a1.7 1.7 0 1 0 .01 0zM99.54 532.76a1.7 1.7 0 1 0 .01 0zM87.59 566.8a1.7 1.7 0 1 0 .01 0zM60.35 523.32a1.7 1.7 0 1 0 .01 0zM69.58 590.14a1.7 1.7 0 1 0 .01 0zM56.07 554.35a1.7 1.7 0 1 0 .01 0zM71.91 508.61a1.7 1.7 0 1 0 .01 0zM94.31 527.53a1.7 1.7 0 1 0 .01 0zM51.16 518.03a1.7 1.7 0 1 0 .01 0zM51.38 594.28a1.7 1.7 0 1 0 .01 0zM62.51 589.28a1.7 1.7 0 1 0 .01 0zM62.76 604.37a1.7 1.7 0 1 0 .01 0zM61.56 582.53a1.7 1.7 0 1 0 .01 0zM55.82 584.24a1.7 1.7 0 1 0 .01 0zM65.35 525.5a1.7 1.7 0 1 0 .01 0zM57.36 586.17a1.7 1.7 0 1 0 .01 0zM54.58 603.72a1.7 1.7 0 1 0 .01 0zM52.39 603.57a1.7 1.7 0 1 0 .01 0zM56.36 582.46a1.7 1.7 0 1 0 .01 0zM52.65 583.91a1.7 1.7 0 1 0 .01 0zM73.25 575.62a1.7 1.7 0 1 0 .01 0zM96.58 562.34a1.7 1.7 0 1 0 .01 0zM102.42 597.85a1.7 1.7 0 1 0 .01 0zM100.43 614.86a1.7 1.7 0 1 0 .01 0zM149.05 517.29a1.7 1.7 0 1 0 .01 0zM92.05 559.11a1.7 1.7 0 1 0 .01 0zM56.47 583.8a1.7 1.7 0 1 0 .01 0zM96.45 582.05a1.7 1.7 0 1 0 .01 0zM89.93 583.15a1.7 1.7 0 1 0 .01 0zM51.63 603.11a1.7 1.7 0 1 0 .01 0zM57.6 506.1a1.7 1.7 0 1 0 .01 0zM69.37 525.1a1.7 1.7 0 1 0 .01 0zM54.49 591.71a1.7 1.7 0 1 0 .01 0zM65.43 577.39a1.7 1.7 0 1 0 .01 0zM52.11 595.56a1.7 1.7 0 1 0 .01 0zM51.11 605.46a1.7 1.7 0 1 0 .01 0zM92.58 559.31a1.7 1.7 0 1 0 .01 0zM88.04 565.21a1.7 1.7 0 1 0 .01 0zM82.2 518.4a1.7 1.7 0 1 0 .01 0zM102.64 513.65a1.7 1.7 0 1 0 .01 0zM61.22 593.78a1.7 1.7 0 1 0 .01 0zM54.91 599.2a1.7 1.7 0 1 0 .01 0zM78.31 576.31a1.7 1.7 0 1 0 .01 0zM78.18 568.43a1.7 1.7 0 1 0 .01 0zM55.67 607.17a1.7 1.7 0 1 0 .01 0zM51.28 599.6a1.7 1.7 0 1 0 .01 0zM50.51 597.09a1.7 1.7 0 1 0 .01 0zM85.23 513.69a1.7 1.7 0 1 0 .01 0zM94.35 512.72a1.7 1.7 0 1 0 .01 0zM54.85 509.53a1.7 1.7 0 1 0 .01 0zM100.98 572.82a1.7 1.7 0 1 0 .01 0zM65.23 503.32a1.7 1.7 0 1 0 .01 0zM104.37 569.24a1.7 1.7 0 1 0 .01 0zM90.26 508.78a1.7 1.7 0 1 0 .01 0zM52.29 583.11a1.7 1.7 0 1 0 .01 0zM56.78 553.83a1.7 1.7 0 1 0 .01 0zM51.18 609.68a1.7 1.7 0 1 0 .01 0zM63 592.65a1.7 1.7 0 1 0 .01 0zM138 568.93a1.7 1.7 0 1 0 .01 0zM55.8 546.22a1.7 1.7 0 1 0 .01 0zM157.89 502.72a1.7 1.7 0 1 0 .01 0zM54.69 522.6a1.7 1.7 0 1 0 .01 0z"/>
<path fill="#40a63b" d="M114.79 564.68a1.7 1.7 0 1 0 .01 0zM54.9 506.9a1.7 1.7 0 1 0 .01 0zM55.23 529.67a1.7 1.7 0 1 0 .01 0zM55.31 510.19a1.7 1.7 0 1 0 .01 0zM75.02 582.54a1.7 1.7 0 1 0 .01 0zM54.57 600.09a1.7 1.7 0 1 0 .01 0zM52.6 565.16a1.7 1.7 0 1 0 .01 0zM86.16 564.87a1.7 1.7 0 1 0 .01 0zM80.93 564.13a1.7 1.7 0 1 0 .01 0zM92.57 573.88a1.7 1.7 0 1 0 .01 0zM99.47 564.71a1.7 1.7 0 1 0 .01 0zM51.75 561.55a1.7 1.7 0 1 0 .01 0zM55.76 506.61a1.7 1.7 0 1 0 .01 0zM51.55 587.42a1.7 1.7 0 1 0 .01 0zM98.23 543.98a1.7 1.7 0 1 0 .01 0zM93.35 573.23a1.7 1.7 0 1 0 .01 0zM80.21 570.81a1.7 1.7 0 1 0 .01 0zM94.62 512.07a1.7 1.7 0 1 0 .01 0zM54.98 532.32a1.7 1.7 0 1 0 .01 0zM59.75 549.83a1.7 1.7 0 1 0 .01 0zM68.29 572.29a1.7 1.7 0 1 0 .01 0zM143.53 567.72a1.7 1.7 0 1 0 .01 0zM81.21 567.81a1.7 1.7 0 1 0 .01 0zM80.85 567.77a1.7 1.7 0 1 0 .01 0zM91.61 573.12a1.7 1.7 0 1 0 .01 0zM55.56 525.9a1.7 1.7 0 1 0 .01 0zM79.58 566.31a1.7 1.7 0 1 0 .01 0zM86.18 573.23a1.7 1.7 0 1 0 .01 0zM56.7 587.35a1.7 1.7 0 1 0 .01 0zM78.33 556.89a1.7 1.7 0 1 0 .01 0zM88.42 562.19a1.7 1.7 0 1 0 .01 0zM57.59 590.65a1.7 1.7 0 1 0 .01 0zM50.92 531.09a1.7 1.7 0 1 0 .01 0zM75.6 505.79a1.7 1.7 0 1 0 .01 0zM101.03 535.05a1.7 1.7 0 1 0 .01 0zM53.44 509.02a1.7 1.7 0 1 0 .01 0zM68.75 568.12a1.7 1.7 0 1 0 .01 0zM97.9 572.48a1.7 1.7 0 1 0 .01 0zM110.77 568.66a1.7 1.7 0 1 0 .01 0zM100.73 566.12a1.7 1.7 0 1 0 .01 0zM79.74 570.34a1.7 1.7 0 1 0 .01 0zM89.32 571.22a1.7 1.7 0 1 0 .01 0zM89.03 569.76a1.7 1.7 0 1 0 .01 0zM79 565.94a1.7 1.7 0 1 0 .01 0zM58.89 563.3a1.7 1.7 0 1 0 .01 0zM88.97 567.91a1.7 1.7 0 1 0 .01 0zM50.88 576.87a1.7 1.7 0 1 0 .01 0zM74.79 513.04a1.7 1.7 0 1 0 .01 0zM97.56 615.35a1.7 1.7 0 1 0 .01 0zM123.64 525.8a1.7 1.7 0 1 0 .01 0zM89.8 573.38a1.7 1.7 0 1 0 .01 0zM96.55 570.02a1.7 1.7 0 1 0 .01 0zM51.07 532.73a1.7 1.7 0 1 0 .01 0zM104.25 572.59a1.7 1.7 0 1 0 .01 0zM105.44 580.05a1.7 1.7 0 1 0 .01 0zM75.65 573.51a1.7 1.7 0 1 0 .01 0zM144.63 507.57a1.7 1.7 0 1 0 .01 0zM91.33 567.69a1.7 1.7 0 1 0 .01 0zM75.04 514.35a1.7 1.7 0 1 0 .01 0zM54.56 508.71a1.7 1.7 0 1 0 .01 0zM51.66 522.94a1.7 1.7 0 1 0 .01 0zM73.33 568.64a1.7 1.7 0 1 0 .01 0zM59.23 571.99a1.7 1.7 0 1 0 .01 0zM58.49 537.58a1.7 1.7 0 1 0 .01 0zM101.48 518.07a1.7 1.7 0 1 0 .01 0zM96.55 570.78a1.7 1.7 0 1 0 .01 0zM55.71 567.19a1.7 1.7 0 1 0 .01 0zM70.9 511.76a1.7 1.7 0 1 0 .01 0zM53.15 539.82a1.7 1.7 0 1 0 .01 0zM130.26 564.19a1.7 1.7 0 1 0 .01 0zM93.06 561a1.7 1.7 0 1 0 .01 0zM68.2 561.6a1.7 1.7 0 1 0 .01 0zM54.69 535.02a1.7 1.7 0 1 0 .01 0zM61.42 589.14a1.7 1.7 0 1 0 .01 0zM52.9 555.34a1.7 1.7 0 1 0 .01 0zM123.64 569.18a1.7 1.7 0 1 0 .01 0zM97.49 563.75a1.7 1.7 0 1 0 .01 0zM100.8 567.01a1.7 1.7 0 1 0 .01 0zM90.07 565.25a1.7 1.7 0 1 0 .01 0zM82.02 565.74a1.7 1.7 0 1 0 .01 0zM58.31 538.96a1.7 1.7 0 1 0 .01 0zM52.22 575.31a1.7 1.7 0 1 0 .01 0zM80.8 540.67a1.7 1.7 0 1 0 .01 0zM102.86 547.31a1.7 1.7 0 1 0 .01 0zM84.33 565.65a1.7 1.7 0 1 0 .01 0zM141.31 562.25a1.7 1.7 0 1 0 .01 0zM77.07 553.06a1.7 1.7 0 1 0 .01 0zM54.3 549.72a1.7 1.7 0 1 0 .01 0zM79.29 565.42a1.7 1.7 0 1 0 .01 0zM57.72 574.81a1.7 1.7 0 1 0 .01 0zM83.94 559.58a1.7 1.7 0 1 0 .01 0zM54.7 540.72a1.7 1.7 0 1 0 .01 0zM84.33 573.41a1.7 1.7 0 1 0 .01 0zM101.19 548.44a1.7 1.7 0 1 0 .01 0zM76.89 565.17a1.7 1.7 0 1 0 .01 0zM85.47 505.08a1.7 1.7 0 1 0 .01 0zM75.5 567.4a1.7 1.7 0 1 0 .01 0zM77.65 575.57a1.7 1.7 0 1 0 .01 0zM52.52 569.88a1.7 1.7 0 1 0 .01 0zM52.23 523.58a1.7 1.7 0 1 0 .01 0zM85.92 564.99a1.7 1.7 0 1 0 .01 0zM65.69 570.47a1.7 1.7 0 1 0 .01 0zM55.24 560.53a1.7 1.7 0 1 0 .01 0zM57.73 571.38a1.7 1.7 0 1 0 .01 0zM97.21 561.33a1.7 1.7 0 1 0 .01 0zM80.5 561.45a1.7 1.7 0 1 0 .01 0zM77.33 564.18a1.7 1.7 0 1 0 .01 0zM56.86 558.76a1.7 1.7 0 1 0 .01 0zM100.94 542.23a1.7 1.7 0 1 0 .01 0zM94.48 540.16a1.7 1.7 0 1 0 .01 0zM91.36 545.74a1.7 1.7 0 1 0 .01 0zM61.93 567.58a1.7 1.7 0 1 0 .01 0zM71.68 504.71a1.7 1.7 0 1 0 .01 0zM96.24 571.4a1.7 1.7 0 1 0 .01 0zM60.12 529.35a1.7 1.7 0 1 0 .01 0zM52.27 616.49a1.7 1.7 0 1 0 .01 0zM133.58 507.57a1.7 1.7 0 1 0 .01 0zM117 586.55a1.7 1.7 0 1 0 .01 0zM79.74 509.29a1.7 1.7 0 1 0 .01 0zM96.53 546.3a1.7 1.7 0 1 0 .01 0zM54.07 556.18a1.7 1.7 0 1 0 .01 0zM91.06 563.04a1.7 1.7 0 1 0 .01 0zM98.92 558.29a1.7 1.7 0 1 0 .01 0zM80.53 572.92a1.7 1.7 0 1 0 .01 0z"/>
<line x1="49.9" y1="624.5" x2="165.7" y2="496.2" stroke="#111" stroke-width="0.9"/>
<line x1="48.3" y1="496.4" x2="48.3" y2="624.9" stroke="#222" stroke-width="0.9"/>
<line x1="47.9" y1="624.5" x2="165.3" y2="624.5" stroke="#222" stroke-width="0.9"/>
<line x1="45.4" y1="623" x2="48.3" y2="623" stroke="#222" stroke-width="0.8"/>
<text x="42.2" y="625.2" text-anchor="end" style="font-size:6.3px">0.00</text>
<line x1="51.3" y1="624.5" x2="51.3" y2="626.5" stroke="#222" stroke-width="0.8"/>
<text x="51.3" y="635.6" text-anchor="middle" style="font-size:6.3px">0.00</text>
<line x1="45.4" y1="592.62" x2="48.3" y2="592.62" stroke="#222" stroke-width="0.8"/>
<text x="42.2" y="594.83" text-anchor="end" style="font-size:6.3px">0.25</text>
<line x1="78.92" y1="624.5" x2="78.92" y2="626.5" stroke="#222" stroke-width="0.8"/>
<text x="78.92" y="635.6" text-anchor="middle" style="font-size:6.3px">0.25</text>
<line x1="45.4" y1="562.25" x2="48.3" y2="562.25" stroke="#222" stroke-width="0.8"/>
<text x="42.2" y="564.45" text-anchor="end" style="font-size:6.3px">0.50</text>
<line x1="106.55" y1="624.5" x2="106.55" y2="626.5" stroke="#222" stroke-width="0.8"/>
<text x="106.55" y="635.6" text-anchor="middle" style="font-size:6.3px">0.50</text>
<line x1="45.4" y1="531.88" x2="48.3" y2="531.88" stroke="#222" stroke-width="0.8"/>
<text x="42.2" y="534.08" text-anchor="end" style="font-size:6.3px">0.75</text>
<line x1="134.18" y1="624.5" x2="134.18" y2="626.5" stroke="#222" stroke-width="0.8"/>
<text x="134.18" y="635.6" text-anchor="middle" style="font-size:6.3px">0.75</text>
<line x1="45.4" y1="501.5" x2="48.3" y2="501.5" stroke="#222" stroke-width="0.8"/>
<text x="42.2" y="503.7" text-anchor="end" style="font-size:6.3px">1.00</text>
<line x1="161.8" y1="624.5" x2="161.8" y2="626.5" stroke="#222" stroke-width="0.8"/>
<text x="161.8" y="635.6" text-anchor="middle" style="font-size:6.3px">1.00</text>
<text x="60.2" y="648" style="font-size:8.2px" textLength="91.7" lengthAdjust="spacingAndGlyphs">VAF of <tspan font-style="italic">RAS</tspan> pathway mutations</text>
<text transform="translate(14.3 560.2) rotate(-90)" text-anchor="middle" style="font-size:8.4px" textLength="100" lengthAdjust="spacingAndGlyphs">Maximum VAF of <tspan font-style="italic">other</tspan> mutations</text>
<text transform="translate(24.2 562.6) rotate(-90)" text-anchor="middle" style="font-size:8.4px" textLength="61" lengthAdjust="spacingAndGlyphs">from the same patient</text>
<line x1="172.1" y1="523.5" x2="172.1" y2="610.4" stroke="#444" stroke-width="0.85"/>
<rect x="166.4" y="555.3" width="11.4" height="22.5" fill="#154b8a" stroke="#0d3a70" stroke-width="0.5"/>
<line x1="166.4" y1="565.6" x2="177.8" y2="565.6" stroke="#111" stroke-width="0.9"/>
<line x1="185" y1="505.4" x2="185" y2="597.5" stroke="#444" stroke-width="0.85"/>
<rect x="179.2" y="542.9" width="11.5" height="25" fill="#3aa935" stroke="#2a8a2a" stroke-width="0.5"/>
<line x1="179.2" y1="563.6" x2="190.7" y2="563.6" stroke="#111" stroke-width="0.9"/>
<text x="206.2" y="462.8" style="font-size:10.8px;font-weight:bold;fill:#111;stroke:#111">E</text>
<polygon points="248.8,547 247.2,547.4 246.5,549 247.2,551 248.2,553 248.4,556 247.6,558 245.8,562 242.8,566 239.8,570 237,574 236.2,578 237.6,582 241.8,586 245.3,590 247.5,593 248.4,596 248.4,600 247.5,601.5 247.5,603 248.8,604 248.8,604 250.1,603 250.1,601.5 249.2,600 249.2,596 250.1,593 252.3,590 255.8,586 260,582 261.4,578 260.6,574 257.8,570 254.8,566 251.8,562 250,558 249.2,556 249.4,553 250.4,551 251.1,549 250.4,547.4 248.8,547" fill="#dcefd2" stroke="#253025" stroke-width="0.7" stroke-linejoin="round"/>
<line x1="236.2" y1="578" x2="261.4" y2="578" stroke="#2b3b2b" stroke-width="0.6"/>
<path fill="#2f8526" d="M250.27 583.23a.75 .75 0 1 0 .01 0zM246.11 566.21a.75 .75 0 1 0 .01 0zM248.37 588.48a.75 .75 0 1 0 .01 0zM250.35 563.17a.75 .75 0 1 0 .01 0zM249.44 588.37a.75 .75 0 1 0 .01 0zM245.75 587.54a.75 .75 0 1 0 .01 0zM245.65 566.13a.75 .75 0 1 0 .01 0zM245.56 578.09a.75 .75 0 1 0 .01 0zM249.88 562.57a.75 .75 0 1 0 .01 0zM249.64 564.96a.75 .75 0 1 0 .01 0zM247.29 580.34a.75 .75 0 1 0 .01 0zM249.08 580.55a.75 .75 0 1 0 .01 0zM248.19 572.18a.75 .75 0 1 0 .01 0zM248.55 584.87a.75 .75 0 1 0 .01 0zM247.18 572.05a.75 .75 0 1 0 .01 0zM247.64 568.07a.75 .75 0 1 0 .01 0zM247.37 560.18a.75 .75 0 1 0 .01 0zM246.32 569.45a.75 .75 0 1 0 .01 0zM247.57 562.84a.75 .75 0 1 0 .01 0zM246.64 579.14a.75 .75 0 1 0 .01 0zM249.69 574.5a.75 .75 0 1 0 .01 0zM247.68 592.08a.75 .75 0 1 0 .01 0zM246.93 561.54a.75 .75 0 1 0 .01 0zM246.41 573.51a.75 .75 0 1 0 .01 0zM248.83 568.03a.75 .75 0 1 0 .01 0zM249.05 590.45a.75 .75 0 1 0 .01 0zM248.11 579.3a.75 .75 0 1 0 .01 0zM246.38 583.92a.75 .75 0 1 0 .01 0zM249.11 568.45a.75 .75 0 1 0 .01 0zM247.29 582.29a.75 .75 0 1 0 .01 0zM247.19 565.73a.75 .75 0 1 0 .01 0zM246.77 583.27a.75 .75 0 1 0 .01 0zM250.48 584.91a.75 .75 0 1 0 .01 0zM247.02 560.38a.75 .75 0 1 0 .01 0zM249.47 585.94a.75 .75 0 1 0 .01 0zM247.07 564.07a.75 .75 0 1 0 .01 0zM247.01 590.85a.75 .75 0 1 0 .01 0zM250.38 573.97a.75 .75 0 1 0 .01 0zM250.1 575.75a.75 .75 0 1 0 .01 0zM248.36 578.37a.75 .75 0 1 0 .01 0zM248.05 578.23a.75 .75 0 1 0 .01 0zM246.09 588.47a.75 .75 0 1 0 .01 0zM249.83 569.99a.75 .75 0 1 0 .01 0zM250.29 578.38a.75 .75 0 1 0 .01 0zM247.9 595.86a.75 .75 0 1 0 .01 0zM245.81 587.95a.75 .75 0 1 0 .01 0zM246.98 583.38a.75 .75 0 1 0 .01 0zM247.11 578.46a.75 .75 0 1 0 .01 0zM248.76 566.17a.75 .75 0 1 0 .01 0zM248.03 590.37a.75 .75 0 1 0 .01 0zM247.34 578.44a.75 .75 0 1 0 .01 0zM247.72 594.86a.75 .75 0 1 0 .01 0zM247.52 591.6a.75 .75 0 1 0 .01 0zM247.67 565.89a.75 .75 0 1 0 .01 0zM245.82 581a.75 .75 0 1 0 .01 0zM248.15 566.48a.75 .75 0 1 0 .01 0zM249.91 567.83a.75 .75 0 1 0 .01 0zM245.78 564a.75 .75 0 1 0 .01 0zM248.24 595a.75 .75 0 1 0 .01 0zM248.07 592.16a.75 .75 0 1 0 .01 0zM248.73 574.55a.75 .75 0 1 0 .01 0zM246.89 579.66a.75 .75 0 1 0 .01 0zM250.18 566.65a.75 .75 0 1 0 .01 0zM245.65 567.96a.75 .75 0 1 0 .01 0zM247.02 575.1a.75 .75 0 1 0 .01 0z"/>
<polygon points="276.3,500 275.9,501 275.8,515 275.6,525 275.1,530 274.3,536 273.3,542 271.8,550 269.8,560 268.7,566 268.3,572 269.1,578 271,584 273.5,590 275.1,594 276.3,596 276.3,596 277.5,594 279.1,590 281.6,584 283.5,578 284.3,572 283.9,566 282.8,560 280.8,550 279.3,542 278.3,536 277.5,530 277,525 276.8,515 276.7,501 276.3,500" fill="#dcefd2" stroke="#253025" stroke-width="0.7" stroke-linejoin="round"/>
<line x1="268.48" y1="569.3" x2="284.12" y2="569.3" stroke="#2b3b2b" stroke-width="0.6"/>
<path fill="#2f8526" d="M273.61 567.91a.75 .75 0 1 0 .01 0zM274.61 565.67a.75 .75 0 1 0 .01 0zM277.55 552.33a.75 .75 0 1 0 .01 0zM277.17 550.91a.75 .75 0 1 0 .01 0zM275.77 590.5a.75 .75 0 1 0 .01 0zM277.41 577.83a.75 .75 0 1 0 .01 0zM276.51 589.02a.75 .75 0 1 0 .01 0zM274.2 557.8a.75 .75 0 1 0 .01 0zM276.8 563.37a.75 .75 0 1 0 .01 0zM274.81 576.81a.75 .75 0 1 0 .01 0zM277.16 562.94a.75 .75 0 1 0 .01 0zM275.72 583a.75 .75 0 1 0 .01 0zM274.63 546.27a.75 .75 0 1 0 .01 0zM275.31 555.22a.75 .75 0 1 0 .01 0zM275.25 568.11a.75 .75 0 1 0 .01 0zM276.2 593.28a.75 .75 0 1 0 .01 0zM276.73 547.39a.75 .75 0 1 0 .01 0zM273.4 567.93a.75 .75 0 1 0 .01 0zM275.71 555.49a.75 .75 0 1 0 .01 0zM277.03 561.55a.75 .75 0 1 0 .01 0zM274.15 581.79a.75 .75 0 1 0 .01 0zM274.84 540.1a.75 .75 0 1 0 .01 0zM277.61 574.04a.75 .75 0 1 0 .01 0zM274.93 589.36a.75 .75 0 1 0 .01 0zM274.36 541.27a.75 .75 0 1 0 .01 0zM277.81 568.57a.75 .75 0 1 0 .01 0zM274.17 541.01a.75 .75 0 1 0 .01 0zM277.47 556.9a.75 .75 0 1 0 .01 0zM273.79 560.27a.75 .75 0 1 0 .01 0zM277.34 547.1a.75 .75 0 1 0 .01 0zM277 569.4a.75 .75 0 1 0 .01 0zM274.03 565.29a.75 .75 0 1 0 .01 0zM273.69 546.11a.75 .75 0 1 0 .01 0zM275.16 546.56a.75 .75 0 1 0 .01 0zM277.03 545.51a.75 .75 0 1 0 .01 0zM276.11 589.44a.75 .75 0 1 0 .01 0zM275.75 593.94a.75 .75 0 1 0 .01 0zM276.8 587.2a.75 .75 0 1 0 .01 0zM277.44 562.55a.75 .75 0 1 0 .01 0zM275.98 575.22a.75 .75 0 1 0 .01 0zM274.44 565.08a.75 .75 0 1 0 .01 0zM274.15 549.65a.75 .75 0 1 0 .01 0zM276.51 572.74a.75 .75 0 1 0 .01 0zM275.02 553.63a.75 .75 0 1 0 .01 0zM276.38 572.69a.75 .75 0 1 0 .01 0zM274.71 563.52a.75 .75 0 1 0 .01 0zM274.26 587.45a.75 .75 0 1 0 .01 0zM275.35 576.37a.75 .75 0 1 0 .01 0zM275.6 551.85a.75 .75 0 1 0 .01 0zM274.89 593.48a.75 .75 0 1 0 .01 0zM275.57 569.75a.75 .75 0 1 0 .01 0zM273.4 554.01a.75 .75 0 1 0 .01 0zM274.66 573.21a.75 .75 0 1 0 .01 0zM275.28 573.13a.75 .75 0 1 0 .01 0zM275.03 590.06a.75 .75 0 1 0 .01 0zM276.03 574.01a.75 .75 0 1 0 .01 0zM275.24 562.02a.75 .75 0 1 0 .01 0zM276.4 562.9a.75 .75 0 1 0 .01 0zM276.43 569.35a.75 .75 0 1 0 .01 0zM275.45 591.64a.75 .75 0 1 0 .01 0zM275.05 573a.75 .75 0 1 0 .01 0zM273.01 564.12a.75 .75 0 1 0 .01 0zM275.9 561.38a.75 .75 0 1 0 .01 0zM276.24 544.26a.75 .75 0 1 0 .01 0zM278.11 567.76a.75 .75 0 1 0 .01 0z"/>
<polygon points="304.2,485.5 303.7,487 303.3,495 303,505 302.6,515 302.1,525 301.5,535 300.9,545 300.1,555 299.4,563 299.2,570 299.5,578 300.4,586 301.8,594 303.1,600 304.2,604 304.2,604 305.3,600 306.6,594 308,586 308.9,578 309.2,570 309,563 308.3,555 307.5,545 306.9,535 306.3,525 305.8,515 305.4,505 305.1,495 304.7,487 304.2,485.5" fill="#dcefd2" stroke="#253025" stroke-width="0.7" stroke-linejoin="round"/>
<line x1="299.37" y1="564.2" x2="309.03" y2="564.2" stroke="#2b3b2b" stroke-width="0.6"/>
<path fill="#2f8526" d="M303.9 543.43a.75 .75 0 1 0 .01 0zM305.89 577.44a.75 .75 0 1 0 .01 0zM303.88 515.34a.75 .75 0 1 0 .01 0zM303.52 597.92a.75 .75 0 1 0 .01 0zM303.35 530.41a.75 .75 0 1 0 .01 0zM302.55 517.48a.75 .75 0 1 0 .01 0zM302.19 528.18a.75 .75 0 1 0 .01 0zM303.24 534.79a.75 .75 0 1 0 .01 0zM303.48 490.97a.75 .75 0 1 0 .01 0zM302.32 560.12a.75 .75 0 1 0 .01 0zM303.13 525.89a.75 .75 0 1 0 .01 0zM303.01 594.22a.75 .75 0 1 0 .01 0zM302.37 526.48a.75 .75 0 1 0 .01 0zM303.73 580.02a.75 .75 0 1 0 .01 0zM302.81 534.05a.75 .75 0 1 0 .01 0zM301.79 546.75a.75 .75 0 1 0 .01 0zM302.74 523.99a.75 .75 0 1 0 .01 0zM304.95 573.34a.75 .75 0 1 0 .01 0zM301.59 557.26a.75 .75 0 1 0 .01 0zM302.88 503.55a.75 .75 0 1 0 .01 0zM304.58 548.33a.75 .75 0 1 0 .01 0zM303 531.27a.75 .75 0 1 0 .01 0zM302.9 594.27a.75 .75 0 1 0 .01 0zM303.77 523.03a.75 .75 0 1 0 .01 0zM303.91 495.09a.75 .75 0 1 0 .01 0zM305.83 558.43a.75 .75 0 1 0 .01 0zM303.97 548.33a.75 .75 0 1 0 .01 0zM303.85 539.72a.75 .75 0 1 0 .01 0zM303.8 507.18a.75 .75 0 1 0 .01 0zM303.56 490.73a.75 .75 0 1 0 .01 0zM303.71 506.16a.75 .75 0 1 0 .01 0zM301.16 580.96a.75 .75 0 1 0 .01 0zM303.28 497.21a.75 .75 0 1 0 .01 0zM303.7 527.64a.75 .75 0 1 0 .01 0zM301.99 587.91a.75 .75 0 1 0 .01 0zM304.14 503.92a.75 .75 0 1 0 .01 0zM306 564.3a.75 .75 0 1 0 .01 0zM303.21 539a.75 .75 0 1 0 .01 0zM303.53 495.65a.75 .75 0 1 0 .01 0zM303.28 598.24a.75 .75 0 1 0 .01 0zM302.06 570.62a.75 .75 0 1 0 .01 0zM302.67 596.76a.75 .75 0 1 0 .01 0zM303.7 522.83a.75 .75 0 1 0 .01 0zM303.19 564.08a.75 .75 0 1 0 .01 0zM303.54 524.01a.75 .75 0 1 0 .01 0zM305.32 564.09a.75 .75 0 1 0 .01 0zM303.01 571.58a.75 .75 0 1 0 .01 0zM303.45 599.96a.75 .75 0 1 0 .01 0zM302.33 564.23a.75 .75 0 1 0 .01 0zM303.03 508.98a.75 .75 0 1 0 .01 0zM303.76 586.58a.75 .75 0 1 0 .01 0zM302.98 520.41a.75 .75 0 1 0 .01 0zM302.54 581.48a.75 .75 0 1 0 .01 0zM303.31 513.22a.75 .75 0 1 0 .01 0zM305.01 590.63a.75 .75 0 1 0 .01 0zM305.36 579.92a.75 .75 0 1 0 .01 0zM302.71 533.09a.75 .75 0 1 0 .01 0zM301.35 547.94a.75 .75 0 1 0 .01 0zM302.64 593.34a.75 .75 0 1 0 .01 0zM303.55 503.83a.75 .75 0 1 0 .01 0zM303.9 503.72a.75 .75 0 1 0 .01 0zM303.49 538.39a.75 .75 0 1 0 .01 0zM303.11 588.99a.75 .75 0 1 0 .01 0zM303.49 595.23a.75 .75 0 1 0 .01 0zM302.28 533.38a.75 .75 0 1 0 .01 0zM304.22 540.09a.75 .75 0 1 0 .01 0zM304.03 498.9a.75 .75 0 1 0 .01 0zM303.76 517.01a.75 .75 0 1 0 .01 0zM301.54 585.56a.75 .75 0 1 0 .01 0zM304.21 516.46a.75 .75 0 1 0 .01 0zM302.18 594.12a.75 .75 0 1 0 .01 0zM304.57 556.7a.75 .75 0 1 0 .01 0zM304.3 528.16a.75 .75 0 1 0 .01 0zM303.07 558.03a.75 .75 0 1 0 .01 0zM304.11 509.2a.75 .75 0 1 0 .01 0zM303.21 600.03a.75 .75 0 1 0 .01 0zM303.91 568.96a.75 .75 0 1 0 .01 0zM301.76 569.93a.75 .75 0 1 0 .01 0zM304.01 516.01a.75 .75 0 1 0 .01 0zM302.98 496.29a.75 .75 0 1 0 .01 0zM302.14 592.17a.75 .75 0 1 0 .01 0zM303.94 529.05a.75 .75 0 1 0 .01 0zM304.01 503.95a.75 .75 0 1 0 .01 0zM304.58 568.19a.75 .75 0 1 0 .01 0zM303.38 520.65a.75 .75 0 1 0 .01 0zM302.51 595.98a.75 .75 0 1 0 .01 0zM303.63 535.35a.75 .75 0 1 0 .01 0zM304.17 566.09a.75 .75 0 1 0 .01 0zM301.7 564.29a.75 .75 0 1 0 .01 0zM304.87 554.2a.75 .75 0 1 0 .01 0zM301.12 574.59a.75 .75 0 1 0 .01 0zM303.29 570.62a.75 .75 0 1 0 .01 0zM302.97 515.32a.75 .75 0 1 0 .01 0zM302.3 528.49a.75 .75 0 1 0 .01 0zM303.25 505.72a.75 .75 0 1 0 .01 0z"/>
<line x1="232" y1="480.5" x2="232" y2="609" stroke="#222" stroke-width="0.9"/>
<line x1="231.6" y1="608.7" x2="320" y2="608.7" stroke="#222" stroke-width="0.9"/>
<line x1="229.5" y1="492" x2="232" y2="492" stroke="#222" stroke-width="0.8"/>
<text x="226.3" y="494.2" text-anchor="end" style="font-size:6.3px">40</text>
<line x1="229.5" y1="510.5" x2="232" y2="510.5" stroke="#222" stroke-width="0.8"/>
<text x="226.3" y="512.7" text-anchor="end" style="font-size:6.3px">30</text>
<line x1="229.5" y1="529" x2="232" y2="529" stroke="#222" stroke-width="0.8"/>
<text x="226.3" y="531.2" text-anchor="end" style="font-size:6.3px">20</text>
<line x1="229.5" y1="547.5" x2="232" y2="547.5" stroke="#222" stroke-width="0.8"/>
<text x="226.3" y="549.7" text-anchor="end" style="font-size:6.3px">10</text>
<line x1="248.8" y1="608.7" x2="248.8" y2="610.7" stroke="#222" stroke-width="0.8"/>
<text transform="translate(251.2 614.6) rotate(-90)" text-anchor="end" style="font-size:6.9px">[0,0.2]</text>
<line x1="276.5" y1="608.7" x2="276.5" y2="610.7" stroke="#222" stroke-width="0.8"/>
<text transform="translate(278.9 614.6) rotate(-90)" text-anchor="end" style="font-size:6.9px">[0.2,0.4]</text>
<line x1="304.2" y1="608.7" x2="304.2" y2="610.7" stroke="#222" stroke-width="0.8"/>
<text transform="translate(306.6 614.6) rotate(-90)" text-anchor="end" style="font-size:6.9px">[0.4,1]</text>
<text x="242.4" y="487.3" style="font-size:6.3px" textLength="31" lengthAdjust="spacingAndGlyphs"><tspan font-style="italic">P</tspan> = .00013</text>
<text transform="translate(213.3 545) rotate(-90)" text-anchor="middle" style="font-size:8.2px" textLength="31" lengthAdjust="spacingAndGlyphs">Monocytes</text>
<text x="230.5" y="648" style="font-size:8.2px" textLength="92" lengthAdjust="spacingAndGlyphs">VAF of <tspan font-style="italic">RAS</tspan> pathway mutations</text>
<text x="338" y="461.9" style="font-size:10.8px;font-weight:bold;fill:#111;stroke:#111">F</text>
<rect x="393.8" y="492.9" width="62.2" height="30.6" fill="#ebebeb"/>
<rect x="393.8" y="555.4" width="62.2" height="30.1" fill="#ebebeb"/>
<line x1="393.3" y1="490.2" x2="393.3" y2="619.4" stroke="#222" stroke-width="0.9"/>
<line x1="392.9" y1="619" x2="493.6" y2="619" stroke="#222" stroke-width="0.9"/>
<line x1="390.3" y1="508" x2="393.3" y2="508" stroke="#222" stroke-width="0.8"/>
<text transform="translate(387.3 510.3) scale(0.92 1)" text-anchor="end" style="font-size:6.8px;font-style:italic">−7/SETBP1</text>
<line x1="390.3" y1="539.2" x2="393.3" y2="539.2" stroke="#222" stroke-width="0.8"/>
<text transform="translate(387.3 541.5) scale(0.92 1)" text-anchor="end" style="font-size:6.8px;font-style:italic">EZH2-ASXL1</text>
<line x1="390.3" y1="570.6" x2="393.3" y2="570.6" stroke="#222" stroke-width="0.8"/>
<text transform="translate(387.3 572.9) scale(0.92 1)" text-anchor="end" style="font-size:6.8px;font-style:italic">IDH-STAG2</text>
<line x1="390.3" y1="601.6" x2="393.3" y2="601.6" stroke="#222" stroke-width="0.8"/>
<text transform="translate(387.3 603.9) scale(0.92 1)" text-anchor="end" style="font-size:6.8px;font-style:italic">bi-TET2</text>
<line x1="401.5" y1="503.5" x2="418.5" y2="503.5" stroke="#74c060" stroke-width="0.95"/>
<circle cx="409.4" cy="503.3" r="1.2" fill="#2f7d2a"/>
<line x1="403" y1="512.5" x2="422.3" y2="512.5" stroke="#3d6ea8" stroke-width="0.95"/>
<circle cx="406.5" cy="512.9" r="1.2" fill="#0b2a5c"/>
<line x1="400.8" y1="534.5" x2="412.3" y2="534.5" stroke="#74c060" stroke-width="0.95"/>
<circle cx="404" cy="534.4" r="1.2" fill="#2f7d2a"/>
<line x1="404.3" y1="544.5" x2="415.6" y2="544.5" stroke="#3d6ea8" stroke-width="0.95"/>
<circle cx="408.3" cy="544.2" r="1.2" fill="#0b2a5c"/>
<line x1="405.6" y1="565.5" x2="421.8" y2="565.5" stroke="#74c060" stroke-width="0.95"/>
<circle cx="410.2" cy="565.6" r="1.2" fill="#2f7d2a"/>
<line x1="403.7" y1="575.5" x2="423.7" y2="575.5" stroke="#3d6ea8" stroke-width="0.95"/>
<circle cx="409.6" cy="575" r="1.2" fill="#0b2a5c"/>
<line x1="410.2" y1="596.5" x2="439.8" y2="596.5" stroke="#74c060" stroke-width="0.95"/>
<circle cx="420.4" cy="596.4" r="1.2" fill="#2f7d2a"/>
<line x1="408.3" y1="606.5" x2="453.3" y2="606.5" stroke="#3d6ea8" stroke-width="0.95"/>
<circle cx="429.9" cy="606" r="1.2" fill="#0b2a5c"/>
<text x="460.3" y="492" style="font-size:6.6px">N.</text>
<text x="475.7" y="492" style="font-size:6.6px" textLength="31" lengthAdjust="spacingAndGlyphs">HR 95% CI</text>
<text x="460.3" y="505">29</text>
<text x="475.7" y="505">1.0 [0.6-1.7]</text>
<text x="460.3" y="515.8">111</text>
<text x="475.7" y="515.8">ref</text>
<text x="460.3" y="535.8">43</text>
<text x="475.7" y="535.8">1.7 [1.1-2.7]*</text>
<text x="460.3" y="546.6">82</text>
<text x="475.7" y="546.6">ref</text>
<text x="460.3" y="566.7">44</text>
<text x="475.7" y="566.7">1.0 [0.7-1.5]</text>
<text x="460.3" y="577.5">223</text>
<text x="475.7" y="577.5">ref</text>
<text x="460.3" y="597.7">178</text>
<text x="475.7" y="597.7">1.1 [0.8-1.5]</text>
<text x="460.3" y="608.5">214</text>
<text x="475.7" y="608.5">ref</text>
<line x1="397.5" y1="619" x2="397.5" y2="621" stroke="#222" stroke-width="0.8"/>
<text x="397.5" y="629.9" text-anchor="middle" style="font-size:6.3px">0</text>
<line x1="409.2" y1="619" x2="409.2" y2="621" stroke="#222" stroke-width="0.8"/>
<text x="409.2" y="629.9" text-anchor="middle" style="font-size:6.3px">2</text>
<line x1="420.9" y1="619" x2="420.9" y2="621" stroke="#222" stroke-width="0.8"/>
<text x="420.9" y="629.9" text-anchor="middle" style="font-size:6.3px">4</text>
<line x1="432.6" y1="619" x2="432.6" y2="621" stroke="#222" stroke-width="0.8"/>
<text x="432.6" y="629.9" text-anchor="middle" style="font-size:6.3px">6</text>
<line x1="444.3" y1="619" x2="444.3" y2="621" stroke="#222" stroke-width="0.8"/>
<text x="444.3" y="629.9" text-anchor="middle" style="font-size:6.3px">8</text>
<line x1="456" y1="619" x2="456" y2="621" stroke="#222" stroke-width="0.8"/>
<text x="456" y="629.9" text-anchor="middle" style="font-size:6.3px">10</text>
<text x="406.3" y="642.9" style="font-size:8.2px" textLength="74.8" lengthAdjust="spacingAndGlyphs">25-75% OS range (years)</text>
<text transform="translate(344.8 554.6) rotate(-90)" text-anchor="middle" style="font-size:8.3px" textLength="31" lengthAdjust="spacingAndGlyphs">Taxonomy</text>
<rect x="0" y="0" width="1.05" height="658" fill="#555"/><rect x="0" y="0" width="520" height="1.05" fill="#4d4d4d"/><rect x="518.75" y="0" width="1.25" height="658" fill="#505050"/><rect x="0" y="656.55" width="520" height="1.45" fill="#4a4a4a"/>
</svg>
</body></html>
